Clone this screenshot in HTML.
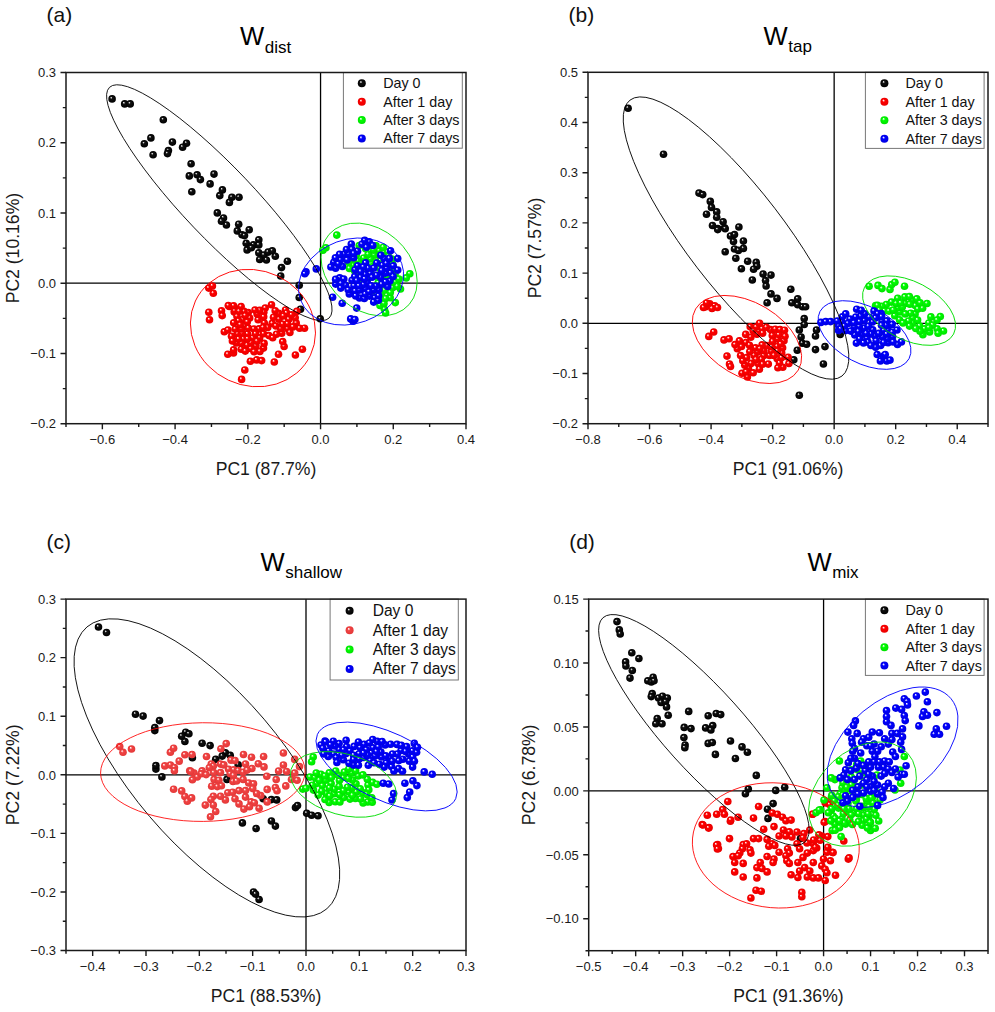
<!DOCTYPE html>
<html><head><meta charset="utf-8"><style>
html,body{margin:0;padding:0;background:#fff;}
svg{display:block;}
text{font-family:"Liberation Sans", sans-serif;fill:#1a1a1a;}
.tl{font-size:13px;}
.al{font-size:17.6px;}
.ti{font-size:25.6px;fill:#000;}
.sb{font-size:17px;}
.pl{font-size:21px;fill:#111;}
.lg{font-size:14px;fill:#111;}
</style></head><body>
<svg width="995" height="1012" viewBox="0 0 995 1012">
<defs>
<radialGradient id="gk" cx="0.5" cy="0.5" r="0.5" fx="0.36" fy="0.31"><stop offset="0" stop-color="#f0f0f0"/><stop offset="0.1" stop-color="#ccc"/><stop offset="0.32" stop-color="#111"/><stop offset="1" stop-color="#000"/></radialGradient>
<radialGradient id="gr" cx="0.5" cy="0.5" r="0.5" fx="0.36" fy="0.31"><stop offset="0" stop-color="#fff"/><stop offset="0.1" stop-color="#ffd8d8"/><stop offset="0.36" stop-color="#f00"/><stop offset="1" stop-color="#e80000"/></radialGradient>
<radialGradient id="gr2" cx="0.5" cy="0.5" r="0.5" fx="0.36" fy="0.31"><stop offset="0" stop-color="#fff"/><stop offset="0.1" stop-color="#ffdede"/><stop offset="0.36" stop-color="#f04444"/><stop offset="1" stop-color="#e43838"/></radialGradient>
<radialGradient id="gg" cx="0.5" cy="0.5" r="0.5" fx="0.36" fy="0.31"><stop offset="0" stop-color="#fff"/><stop offset="0.1" stop-color="#d8ffd8"/><stop offset="0.36" stop-color="#0f0"/><stop offset="1" stop-color="#00e000"/></radialGradient>
<radialGradient id="gb" cx="0.5" cy="0.5" r="0.5" fx="0.36" fy="0.31"><stop offset="0" stop-color="#fff"/><stop offset="0.1" stop-color="#d8d8ff"/><stop offset="0.36" stop-color="#00f"/><stop offset="1" stop-color="#0000e0"/></radialGradient>
</defs>
<rect width="995" height="1012" fill="#fff"/>
<clipPath id="clipa"><rect x="66" y="72.5" width="400" height="351.2"/></clipPath>
<line x1="320.55" y1="72.5" x2="320.55" y2="423.7" stroke="#000" stroke-width="1.3"/>
<line x1="66" y1="283.22" x2="466" y2="283.22" stroke="#000" stroke-width="1.3"/>
<g clip-path="url(#clipa)">
<circle cx="112.1" cy="98.9" r="3.8" fill="url(#gk)"/>
<circle cx="124.7" cy="103.9" r="3.8" fill="url(#gk)"/>
<circle cx="130.2" cy="103.9" r="3.8" fill="url(#gk)"/>
<circle cx="163.3" cy="119.8" r="3.8" fill="url(#gk)"/>
<circle cx="150.9" cy="137.9" r="3.8" fill="url(#gk)"/>
<circle cx="144.3" cy="143.7" r="3.8" fill="url(#gk)"/>
<circle cx="172.4" cy="142.1" r="3.8" fill="url(#gk)"/>
<circle cx="186.5" cy="143.3" r="3.8" fill="url(#gk)"/>
<circle cx="182.6" cy="147.2" r="3.8" fill="url(#gk)"/>
<circle cx="168.4" cy="150.6" r="3.8" fill="url(#gk)"/>
<circle cx="167.5" cy="153.6" r="3.8" fill="url(#gk)"/>
<circle cx="153.1" cy="154.8" r="3.8" fill="url(#gk)"/>
<circle cx="191.1" cy="163.8" r="3.8" fill="url(#gk)"/>
<circle cx="189.3" cy="175.9" r="3.8" fill="url(#gk)"/>
<circle cx="197.1" cy="174.7" r="3.8" fill="url(#gk)"/>
<circle cx="214.0" cy="174.1" r="3.8" fill="url(#gk)"/>
<circle cx="200.4" cy="179.6" r="3.8" fill="url(#gk)"/>
<circle cx="191.8" cy="191.8" r="3.8" fill="url(#gk)"/>
<circle cx="210.1" cy="183.9" r="3.8" fill="url(#gk)"/>
<circle cx="222.4" cy="189.9" r="3.8" fill="url(#gk)"/>
<circle cx="219.8" cy="195.6" r="3.8" fill="url(#gk)"/>
<circle cx="231.9" cy="197.3" r="3.8" fill="url(#gk)"/>
<circle cx="239.0" cy="197.3" r="3.8" fill="url(#gk)"/>
<circle cx="229.4" cy="202.4" r="3.8" fill="url(#gk)"/>
<circle cx="217.3" cy="212.9" r="3.8" fill="url(#gk)"/>
<circle cx="223.5" cy="218.0" r="3.8" fill="url(#gk)"/>
<circle cx="221.5" cy="221.3" r="3.8" fill="url(#gk)"/>
<circle cx="226.4" cy="225.0" r="3.8" fill="url(#gk)"/>
<circle cx="238.7" cy="224.2" r="3.8" fill="url(#gk)"/>
<circle cx="249.2" cy="229.7" r="3.8" fill="url(#gk)"/>
<circle cx="237.3" cy="230.9" r="3.8" fill="url(#gk)"/>
<circle cx="242.0" cy="234.8" r="3.8" fill="url(#gk)"/>
<circle cx="244.5" cy="235.6" r="3.8" fill="url(#gk)"/>
<circle cx="258.8" cy="239.8" r="3.8" fill="url(#gk)"/>
<circle cx="246.2" cy="243.2" r="3.8" fill="url(#gk)"/>
<circle cx="253.4" cy="244.9" r="3.8" fill="url(#gk)"/>
<circle cx="258.8" cy="244.9" r="3.8" fill="url(#gk)"/>
<circle cx="247.1" cy="249.9" r="3.8" fill="url(#gk)"/>
<circle cx="251.3" cy="247.7" r="3.8" fill="url(#gk)"/>
<circle cx="258.8" cy="252.8" r="3.8" fill="url(#gk)"/>
<circle cx="263.9" cy="255.0" r="3.8" fill="url(#gk)"/>
<circle cx="268.1" cy="252.1" r="3.8" fill="url(#gk)"/>
<circle cx="272.3" cy="250.8" r="3.8" fill="url(#gk)"/>
<circle cx="275.3" cy="256.3" r="3.8" fill="url(#gk)"/>
<circle cx="259.7" cy="259.5" r="3.8" fill="url(#gk)"/>
<circle cx="266.4" cy="260.0" r="3.8" fill="url(#gk)"/>
<circle cx="287.4" cy="261.2" r="3.8" fill="url(#gk)"/>
<circle cx="281.5" cy="267.6" r="3.8" fill="url(#gk)"/>
<circle cx="280.7" cy="276.0" r="3.8" fill="url(#gk)"/>
<circle cx="299.2" cy="285.2" r="3.8" fill="url(#gk)"/>
<circle cx="299.2" cy="297.5" r="3.8" fill="url(#gk)"/>
<circle cx="300.5" cy="309.2" r="3.8" fill="url(#gk)"/>
<circle cx="320.2" cy="318.8" r="3.8" fill="url(#gk)"/>
<circle cx="208.8" cy="288.1" r="3.8" fill="url(#gr)"/>
<circle cx="212.4" cy="286.0" r="3.8" fill="url(#gr)"/>
<circle cx="213.3" cy="293.3" r="3.8" fill="url(#gr)"/>
<circle cx="208.8" cy="312.3" r="3.8" fill="url(#gr)"/>
<circle cx="209.5" cy="319.8" r="3.8" fill="url(#gr)"/>
<circle cx="221.5" cy="310.7" r="3.8" fill="url(#gr)"/>
<circle cx="222.2" cy="315.6" r="3.8" fill="url(#gr)"/>
<circle cx="229.2" cy="306.4" r="3.8" fill="url(#gr)"/>
<circle cx="233.5" cy="307.1" r="3.8" fill="url(#gr)"/>
<circle cx="239.8" cy="308.5" r="3.8" fill="url(#gr)"/>
<circle cx="234.2" cy="312.1" r="3.8" fill="url(#gr)"/>
<circle cx="271.5" cy="304.7" r="3.8" fill="url(#gr)"/>
<circle cx="224.3" cy="331.8" r="3.8" fill="url(#gr)"/>
<circle cx="227.8" cy="354.3" r="3.8" fill="url(#gr)"/>
<circle cx="233.5" cy="352.9" r="3.8" fill="url(#gr)"/>
<circle cx="244.8" cy="370.0" r="3.8" fill="url(#gr)"/>
<circle cx="241.6" cy="379.4" r="3.8" fill="url(#gr)"/>
<circle cx="250.4" cy="361.3" r="3.8" fill="url(#gr)"/>
<circle cx="256.7" cy="359.9" r="3.8" fill="url(#gr)"/>
<circle cx="261.6" cy="360.6" r="3.8" fill="url(#gr)"/>
<circle cx="274.3" cy="362.0" r="3.8" fill="url(#gr)"/>
<circle cx="278.5" cy="354.3" r="3.8" fill="url(#gr)"/>
<circle cx="295.4" cy="355.0" r="3.8" fill="url(#gr)"/>
<circle cx="302.4" cy="349.3" r="3.8" fill="url(#gr)"/>
<circle cx="304.5" cy="328.2" r="3.8" fill="url(#gr)"/>
<circle cx="299.6" cy="328.2" r="3.8" fill="url(#gr)"/>
<circle cx="284.1" cy="346.5" r="3.8" fill="url(#gr)"/>
<circle cx="282.7" cy="341.6" r="3.8" fill="url(#gr)"/>
<circle cx="296.8" cy="311.4" r="3.8" fill="url(#gr)"/>
<circle cx="285.5" cy="310.0" r="3.8" fill="url(#gr)"/>
<circle cx="248.2" cy="312.5" r="3.8" fill="url(#gr)"/>
<circle cx="264.3" cy="323.0" r="3.8" fill="url(#gr)"/>
<circle cx="228.0" cy="330.0" r="3.8" fill="url(#gr)"/>
<circle cx="255.9" cy="345.7" r="3.8" fill="url(#gr)"/>
<circle cx="288.8" cy="319.3" r="3.8" fill="url(#gr)"/>
<circle cx="234.6" cy="310.8" r="3.8" fill="url(#gr)"/>
<circle cx="247.1" cy="345.2" r="3.8" fill="url(#gr)"/>
<circle cx="237.4" cy="333.7" r="3.8" fill="url(#gr)"/>
<circle cx="272.2" cy="323.4" r="3.8" fill="url(#gr)"/>
<circle cx="265.2" cy="308.1" r="3.8" fill="url(#gr)"/>
<circle cx="247.5" cy="333.9" r="3.8" fill="url(#gr)"/>
<circle cx="258.1" cy="319.8" r="3.8" fill="url(#gr)"/>
<circle cx="242.2" cy="333.3" r="3.8" fill="url(#gr)"/>
<circle cx="263.5" cy="348.1" r="3.8" fill="url(#gr)"/>
<circle cx="279.0" cy="319.2" r="3.8" fill="url(#gr)"/>
<circle cx="235.2" cy="329.1" r="3.8" fill="url(#gr)"/>
<circle cx="281.7" cy="333.2" r="3.8" fill="url(#gr)"/>
<circle cx="276.4" cy="334.3" r="3.8" fill="url(#gr)"/>
<circle cx="267.7" cy="327.5" r="3.8" fill="url(#gr)"/>
<circle cx="259.6" cy="337.7" r="3.8" fill="url(#gr)"/>
<circle cx="252.9" cy="338.0" r="3.8" fill="url(#gr)"/>
<circle cx="244.8" cy="325.5" r="3.8" fill="url(#gr)"/>
<circle cx="250.9" cy="348.6" r="3.8" fill="url(#gr)"/>
<circle cx="237.0" cy="316.4" r="3.8" fill="url(#gr)"/>
<circle cx="241.3" cy="328.9" r="3.8" fill="url(#gr)"/>
<circle cx="231.5" cy="336.3" r="3.8" fill="url(#gr)"/>
<circle cx="259.0" cy="328.9" r="3.8" fill="url(#gr)"/>
<circle cx="249.7" cy="318.1" r="3.8" fill="url(#gr)"/>
<circle cx="286.6" cy="313.0" r="3.8" fill="url(#gr)"/>
<circle cx="263.8" cy="312.2" r="3.8" fill="url(#gr)"/>
<circle cx="236.3" cy="343.0" r="3.8" fill="url(#gr)"/>
<circle cx="264.1" cy="343.4" r="3.8" fill="url(#gr)"/>
<circle cx="243.3" cy="339.1" r="3.8" fill="url(#gr)"/>
<circle cx="296.2" cy="323.0" r="3.8" fill="url(#gr)"/>
<circle cx="287.5" cy="328.6" r="3.8" fill="url(#gr)"/>
<circle cx="280.6" cy="328.6" r="3.8" fill="url(#gr)"/>
<circle cx="254.1" cy="351.7" r="3.8" fill="url(#gr)"/>
<circle cx="278.7" cy="313.4" r="3.8" fill="url(#gr)"/>
<circle cx="233.6" cy="305.7" r="3.8" fill="url(#gr)"/>
<circle cx="242.8" cy="319.5" r="3.8" fill="url(#gr)"/>
<circle cx="233.6" cy="349.8" r="3.8" fill="url(#gr)"/>
<circle cx="257.1" cy="314.0" r="3.8" fill="url(#gr)"/>
<circle cx="293.0" cy="326.9" r="3.8" fill="url(#gr)"/>
<circle cx="259.9" cy="351.4" r="3.8" fill="url(#gr)"/>
<circle cx="295.2" cy="317.8" r="3.8" fill="url(#gr)"/>
<circle cx="253.9" cy="329.0" r="3.8" fill="url(#gr)"/>
<circle cx="238.5" cy="320.7" r="3.8" fill="url(#gr)"/>
<circle cx="275.9" cy="326.0" r="3.8" fill="url(#gr)"/>
<circle cx="244.0" cy="311.4" r="3.8" fill="url(#gr)"/>
<circle cx="263.7" cy="316.8" r="3.8" fill="url(#gr)"/>
<circle cx="241.1" cy="306.6" r="3.8" fill="url(#gr)"/>
<circle cx="233.7" cy="322.8" r="3.8" fill="url(#gr)"/>
<circle cx="291.5" cy="314.8" r="3.8" fill="url(#gr)"/>
<circle cx="241.2" cy="349.2" r="3.8" fill="url(#gr)"/>
<circle cx="245.3" cy="351.1" r="3.8" fill="url(#gr)"/>
<circle cx="263.5" cy="333.7" r="3.8" fill="url(#gr)"/>
<circle cx="268.9" cy="335.6" r="3.8" fill="url(#gr)"/>
<circle cx="283.3" cy="316.0" r="3.8" fill="url(#gr)"/>
<circle cx="240.2" cy="324.7" r="3.8" fill="url(#gr)"/>
<circle cx="255.5" cy="333.7" r="3.8" fill="url(#gr)"/>
<circle cx="259.6" cy="310.3" r="3.8" fill="url(#gr)"/>
<circle cx="289.9" cy="332.4" r="3.8" fill="url(#gr)"/>
<circle cx="251.0" cy="342.7" r="3.8" fill="url(#gr)"/>
<circle cx="245.2" cy="315.6" r="3.8" fill="url(#gr)"/>
<circle cx="282.7" cy="324.2" r="3.8" fill="url(#gr)"/>
<circle cx="273.5" cy="317.3" r="3.8" fill="url(#gr)"/>
<circle cx="241.4" cy="343.3" r="3.8" fill="url(#gr)"/>
<circle cx="238.6" cy="339.1" r="3.8" fill="url(#gr)"/>
<circle cx="255.0" cy="310.1" r="3.8" fill="url(#gr)"/>
<circle cx="257.0" cy="341.2" r="3.8" fill="url(#gr)"/>
<circle cx="228.3" cy="305.6" r="3.8" fill="url(#gr)"/>
<circle cx="248.3" cy="328.1" r="3.8" fill="url(#gr)"/>
<circle cx="275.2" cy="310.7" r="3.8" fill="url(#gr)"/>
<circle cx="239.1" cy="311.3" r="3.8" fill="url(#gr)"/>
<circle cx="263.1" cy="327.5" r="3.8" fill="url(#gr)"/>
<circle cx="232.4" cy="341.0" r="3.8" fill="url(#gr)"/>
<circle cx="272.7" cy="337.7" r="3.8" fill="url(#gr)"/>
<circle cx="247.2" cy="321.9" r="3.8" fill="url(#gr)"/>
<circle cx="247.7" cy="338.7" r="3.8" fill="url(#gr)"/>
<circle cx="287.5" cy="323.7" r="3.8" fill="url(#gr)"/>
<circle cx="336.8" cy="235.1" r="3.8" fill="url(#gg)"/>
<circle cx="325.9" cy="247.7" r="3.8" fill="url(#gg)"/>
<circle cx="322.9" cy="250.2" r="3.8" fill="url(#gg)"/>
<circle cx="409.8" cy="273.7" r="3.8" fill="url(#gg)"/>
<circle cx="406.2" cy="277.9" r="3.8" fill="url(#gg)"/>
<circle cx="397.7" cy="279.7" r="3.8" fill="url(#gg)"/>
<circle cx="395.3" cy="302.6" r="3.8" fill="url(#gg)"/>
<circle cx="384.4" cy="309.3" r="3.8" fill="url(#gg)"/>
<circle cx="385.6" cy="312.9" r="3.8" fill="url(#gg)"/>
<circle cx="382.0" cy="297.2" r="3.8" fill="url(#gg)"/>
<circle cx="400.5" cy="289.0" r="3.8" fill="url(#gg)"/>
<circle cx="374.2" cy="254.9" r="3.8" fill="url(#gg)"/>
<circle cx="370.5" cy="259.0" r="3.8" fill="url(#gg)"/>
<circle cx="379.0" cy="250.7" r="3.8" fill="url(#gg)"/>
<circle cx="374.7" cy="287.5" r="3.8" fill="url(#gg)"/>
<circle cx="380.0" cy="305.5" r="3.8" fill="url(#gg)"/>
<circle cx="379.5" cy="255.5" r="3.8" fill="url(#gg)"/>
<circle cx="376.9" cy="294.1" r="3.8" fill="url(#gg)"/>
<circle cx="388.3" cy="262.0" r="3.8" fill="url(#gg)"/>
<circle cx="380.2" cy="268.7" r="3.8" fill="url(#gg)"/>
<circle cx="365.7" cy="248.7" r="3.8" fill="url(#gg)"/>
<circle cx="372.0" cy="266.7" r="3.8" fill="url(#gg)"/>
<circle cx="386.8" cy="276.8" r="3.8" fill="url(#gg)"/>
<circle cx="395.5" cy="281.8" r="3.8" fill="url(#gg)"/>
<circle cx="363.6" cy="258.1" r="3.8" fill="url(#gg)"/>
<circle cx="377.6" cy="299.8" r="3.8" fill="url(#gg)"/>
<circle cx="364.1" cy="275.7" r="3.8" fill="url(#gg)"/>
<circle cx="360.2" cy="283.4" r="3.8" fill="url(#gg)"/>
<circle cx="357.8" cy="260.9" r="3.8" fill="url(#gg)"/>
<circle cx="384.5" cy="290.3" r="3.8" fill="url(#gg)"/>
<circle cx="357.3" cy="275.1" r="3.8" fill="url(#gg)"/>
<circle cx="390.2" cy="297.8" r="3.8" fill="url(#gg)"/>
<circle cx="389.5" cy="282.9" r="3.8" fill="url(#gg)"/>
<circle cx="384.2" cy="266.3" r="3.8" fill="url(#gg)"/>
<circle cx="352.9" cy="265.3" r="3.8" fill="url(#gg)"/>
<circle cx="353.3" cy="259.5" r="3.8" fill="url(#gg)"/>
<circle cx="384.1" cy="255.4" r="3.8" fill="url(#gg)"/>
<circle cx="383.2" cy="247.2" r="3.8" fill="url(#gg)"/>
<circle cx="392.6" cy="287.7" r="3.8" fill="url(#gg)"/>
<circle cx="375.4" cy="262.0" r="3.8" fill="url(#gg)"/>
<circle cx="378.2" cy="282.8" r="3.8" fill="url(#gg)"/>
<circle cx="384.0" cy="303.5" r="3.8" fill="url(#gg)"/>
<circle cx="360.2" cy="264.5" r="3.8" fill="url(#gg)"/>
<circle cx="390.6" cy="271.5" r="3.8" fill="url(#gg)"/>
<circle cx="364.0" cy="244.6" r="3.8" fill="url(#gg)"/>
<circle cx="382.1" cy="280.6" r="3.8" fill="url(#gg)"/>
<circle cx="348.7" cy="262.4" r="3.8" fill="url(#gg)"/>
<circle cx="359.2" cy="245.6" r="3.8" fill="url(#gg)"/>
<circle cx="356.3" cy="254.9" r="3.8" fill="url(#gg)"/>
<circle cx="395.0" cy="274.3" r="3.8" fill="url(#gg)"/>
<circle cx="379.6" cy="287.8" r="3.8" fill="url(#gg)"/>
<circle cx="387.6" cy="252.1" r="3.8" fill="url(#gg)"/>
<circle cx="369.1" cy="244.5" r="3.8" fill="url(#gg)"/>
<circle cx="385.1" cy="284.5" r="3.8" fill="url(#gg)"/>
<circle cx="368.0" cy="277.7" r="3.8" fill="url(#gg)"/>
<circle cx="381.8" cy="296.3" r="3.8" fill="url(#gg)"/>
<circle cx="370.3" cy="271.7" r="3.8" fill="url(#gg)"/>
<circle cx="398.9" cy="279.1" r="3.8" fill="url(#gg)"/>
<circle cx="373.4" cy="250.1" r="3.8" fill="url(#gg)"/>
<circle cx="361.1" cy="268.9" r="3.8" fill="url(#gg)"/>
<circle cx="375.0" cy="276.2" r="3.8" fill="url(#gg)"/>
<circle cx="382.3" cy="276.2" r="3.8" fill="url(#gg)"/>
<circle cx="366.1" cy="265.5" r="3.8" fill="url(#gg)"/>
<circle cx="367.0" cy="284.0" r="3.8" fill="url(#gg)"/>
<circle cx="364.8" cy="271.2" r="3.8" fill="url(#gg)"/>
<circle cx="394.3" cy="269.2" r="3.8" fill="url(#gg)"/>
<circle cx="392.7" cy="264.3" r="3.8" fill="url(#gg)"/>
<circle cx="365.5" cy="289.0" r="3.8" fill="url(#gg)"/>
<circle cx="354.7" cy="271.1" r="3.8" fill="url(#gg)"/>
<circle cx="390.3" cy="292.5" r="3.8" fill="url(#gg)"/>
<circle cx="368.1" cy="254.4" r="3.8" fill="url(#gg)"/>
<circle cx="376.1" cy="245.9" r="3.8" fill="url(#gg)"/>
<circle cx="380.5" cy="260.6" r="3.8" fill="url(#gg)"/>
<circle cx="384.6" cy="271.0" r="3.8" fill="url(#gg)"/>
<circle cx="391.7" cy="277.8" r="3.8" fill="url(#gg)"/>
<circle cx="391.9" cy="259.0" r="3.8" fill="url(#gg)"/>
<circle cx="349.4" cy="268.5" r="3.8" fill="url(#gg)"/>
<circle cx="360.1" cy="279.1" r="3.8" fill="url(#gg)"/>
<circle cx="388.3" cy="256.4" r="3.8" fill="url(#gg)"/>
<circle cx="385.6" cy="298.5" r="3.8" fill="url(#gg)"/>
<circle cx="388.9" cy="266.6" r="3.8" fill="url(#gg)"/>
<circle cx="397.3" cy="286.3" r="3.8" fill="url(#gg)"/>
<circle cx="356.9" cy="267.3" r="3.8" fill="url(#gg)"/>
<circle cx="306.0" cy="271.9" r="3.8" fill="url(#gb)"/>
<circle cx="316.3" cy="268.9" r="3.8" fill="url(#gb)"/>
<circle cx="332.6" cy="297.2" r="3.8" fill="url(#gb)"/>
<circle cx="342.2" cy="303.2" r="3.8" fill="url(#gb)"/>
<circle cx="356.7" cy="308.1" r="3.8" fill="url(#gb)"/>
<circle cx="353.1" cy="321.3" r="3.8" fill="url(#gb)"/>
<circle cx="350.7" cy="318.9" r="3.8" fill="url(#gb)"/>
<circle cx="354.9" cy="319.5" r="3.8" fill="url(#gb)"/>
<circle cx="397.7" cy="270.1" r="3.8" fill="url(#gb)"/>
<circle cx="390.5" cy="250.8" r="3.8" fill="url(#gb)"/>
<circle cx="397.7" cy="258.6" r="3.8" fill="url(#gb)"/>
<circle cx="351.3" cy="244.1" r="3.8" fill="url(#gb)"/>
<circle cx="304.8" cy="273.7" r="3.8" fill="url(#gb)"/>
<circle cx="344.0" cy="254.2" r="3.8" fill="url(#gb)"/>
<circle cx="357.5" cy="251.2" r="3.8" fill="url(#gb)"/>
<circle cx="342.4" cy="266.4" r="3.8" fill="url(#gb)"/>
<circle cx="348.8" cy="253.8" r="3.8" fill="url(#gb)"/>
<circle cx="335.6" cy="268.2" r="3.8" fill="url(#gb)"/>
<circle cx="333.8" cy="262.2" r="3.8" fill="url(#gb)"/>
<circle cx="340.4" cy="259.8" r="3.8" fill="url(#gb)"/>
<circle cx="353.6" cy="257.8" r="3.8" fill="url(#gb)"/>
<circle cx="347.1" cy="259.9" r="3.8" fill="url(#gb)"/>
<circle cx="339.6" cy="254.4" r="3.8" fill="url(#gb)"/>
<circle cx="346.5" cy="249.5" r="3.8" fill="url(#gb)"/>
<circle cx="351.9" cy="249.3" r="3.8" fill="url(#gb)"/>
<circle cx="335.4" cy="257.9" r="3.8" fill="url(#gb)"/>
<circle cx="338.3" cy="263.8" r="3.8" fill="url(#gb)"/>
<circle cx="330.9" cy="267.0" r="3.8" fill="url(#gb)"/>
<circle cx="353.7" cy="253.4" r="3.8" fill="url(#gb)"/>
<circle cx="376.8" cy="263.0" r="3.8" fill="url(#gb)"/>
<circle cx="349.3" cy="294.0" r="3.8" fill="url(#gb)"/>
<circle cx="354.0" cy="285.9" r="3.8" fill="url(#gb)"/>
<circle cx="355.1" cy="269.7" r="3.8" fill="url(#gb)"/>
<circle cx="384.1" cy="258.6" r="3.8" fill="url(#gb)"/>
<circle cx="373.9" cy="268.1" r="3.8" fill="url(#gb)"/>
<circle cx="380.6" cy="277.5" r="3.8" fill="url(#gb)"/>
<circle cx="367.3" cy="282.5" r="3.8" fill="url(#gb)"/>
<circle cx="339.7" cy="277.7" r="3.8" fill="url(#gb)"/>
<circle cx="378.9" cy="289.7" r="3.8" fill="url(#gb)"/>
<circle cx="381.7" cy="284.3" r="3.8" fill="url(#gb)"/>
<circle cx="374.7" cy="297.7" r="3.8" fill="url(#gb)"/>
<circle cx="370.1" cy="273.4" r="3.8" fill="url(#gb)"/>
<circle cx="390.5" cy="272.8" r="3.8" fill="url(#gb)"/>
<circle cx="359.5" cy="298.0" r="3.8" fill="url(#gb)"/>
<circle cx="365.3" cy="288.6" r="3.8" fill="url(#gb)"/>
<circle cx="389.8" cy="281.0" r="3.8" fill="url(#gb)"/>
<circle cx="393.2" cy="265.8" r="3.8" fill="url(#gb)"/>
<circle cx="355.1" cy="291.0" r="3.8" fill="url(#gb)"/>
<circle cx="385.5" cy="273.1" r="3.8" fill="url(#gb)"/>
<circle cx="359.4" cy="290.1" r="3.8" fill="url(#gb)"/>
<circle cx="345.5" cy="285.3" r="3.8" fill="url(#gb)"/>
<circle cx="373.7" cy="302.1" r="3.8" fill="url(#gb)"/>
<circle cx="365.6" cy="262.9" r="3.8" fill="url(#gb)"/>
<circle cx="378.3" cy="300.3" r="3.8" fill="url(#gb)"/>
<circle cx="382.4" cy="265.3" r="3.8" fill="url(#gb)"/>
<circle cx="364.3" cy="298.5" r="3.8" fill="url(#gb)"/>
<circle cx="335.7" cy="284.1" r="3.8" fill="url(#gb)"/>
<circle cx="365.1" cy="274.4" r="3.8" fill="url(#gb)"/>
<circle cx="372.0" cy="277.3" r="3.8" fill="url(#gb)"/>
<circle cx="368.2" cy="268.2" r="3.8" fill="url(#gb)"/>
<circle cx="380.8" cy="255.3" r="3.8" fill="url(#gb)"/>
<circle cx="343.8" cy="279.1" r="3.8" fill="url(#gb)"/>
<circle cx="363.2" cy="266.9" r="3.8" fill="url(#gb)"/>
<circle cx="360.6" cy="277.4" r="3.8" fill="url(#gb)"/>
<circle cx="352.1" cy="280.2" r="3.8" fill="url(#gb)"/>
<circle cx="354.7" cy="276.6" r="3.8" fill="url(#gb)"/>
<circle cx="369.5" cy="296.1" r="3.8" fill="url(#gb)"/>
<circle cx="360.7" cy="271.5" r="3.8" fill="url(#gb)"/>
<circle cx="365.2" cy="294.1" r="3.8" fill="url(#gb)"/>
<circle cx="373.4" cy="290.3" r="3.8" fill="url(#gb)"/>
<circle cx="376.6" cy="275.3" r="3.8" fill="url(#gb)"/>
<circle cx="363.5" cy="284.6" r="3.8" fill="url(#gb)"/>
<circle cx="387.7" cy="286.4" r="3.8" fill="url(#gb)"/>
<circle cx="386.6" cy="268.2" r="3.8" fill="url(#gb)"/>
<circle cx="341.0" cy="283.4" r="3.8" fill="url(#gb)"/>
<circle cx="335.6" cy="279.4" r="3.8" fill="url(#gb)"/>
<circle cx="340.8" cy="288.1" r="3.8" fill="url(#gb)"/>
<circle cx="364.8" cy="278.9" r="3.8" fill="url(#gb)"/>
<circle cx="375.9" cy="286.1" r="3.8" fill="url(#gb)"/>
<circle cx="386.3" cy="263.4" r="3.8" fill="url(#gb)"/>
<circle cx="381.8" cy="270.5" r="3.8" fill="url(#gb)"/>
<circle cx="385.6" cy="281.9" r="3.8" fill="url(#gb)"/>
<circle cx="389.4" cy="258.4" r="3.8" fill="url(#gb)"/>
<circle cx="348.2" cy="289.8" r="3.8" fill="url(#gb)"/>
<circle cx="369.1" cy="291.7" r="3.8" fill="url(#gb)"/>
<circle cx="355.7" cy="295.9" r="3.8" fill="url(#gb)"/>
<circle cx="371.1" cy="285.7" r="3.8" fill="url(#gb)"/>
<circle cx="378.6" cy="295.7" r="3.8" fill="url(#gb)"/>
<circle cx="357.6" cy="265.7" r="3.8" fill="url(#gb)"/>
<circle cx="356.8" cy="280.5" r="3.8" fill="url(#gb)"/>
<circle cx="358.9" cy="285.8" r="3.8" fill="url(#gb)"/>
<circle cx="393.1" cy="276.4" r="3.8" fill="url(#gb)"/>
<circle cx="369.2" cy="241.8" r="3.8" fill="url(#gb)"/>
<circle cx="362.0" cy="244.2" r="3.8" fill="url(#gb)"/>
<circle cx="366.4" cy="247.3" r="3.8" fill="url(#gb)"/>
<circle cx="372.8" cy="245.5" r="3.8" fill="url(#gb)"/>
<circle cx="364.7" cy="240.3" r="3.8" fill="url(#gb)"/>
</g>
<g clip-path="url(#clipa)" fill="none" stroke-width="0.85">
<ellipse cx="219.31" cy="202.69" rx="159.25" ry="35.48" transform="rotate(-133.58 219.31 202.69)" stroke="#000"/>
<ellipse cx="252.95" cy="328.06" rx="63.59" ry="57.61" transform="rotate(-154.82 252.95 328.06)" stroke="#f00"/>
<ellipse cx="369.08" cy="269.47" rx="53.22" ry="40.48" transform="rotate(-138.82 369.08 269.47)" stroke="#0d0"/>
<ellipse cx="351.06" cy="281.53" rx="53.78" ry="42.05" transform="rotate(160.19 351.06 281.53)" stroke="#00f"/>
</g>
<path d="M102.36 423.7v5.5M175.09 423.7v5.5M247.82 423.7v5.5M320.55 423.7v5.5M393.27 423.7v5.5M466.00 423.7v5.5M66.00 423.7v3.2M138.73 423.7v3.2M211.45 423.7v3.2M284.18 423.7v3.2M356.91 423.7v3.2M429.64 423.7v3.2M66 72.50h-5.5M66 142.74h-5.5M66 212.98h-5.5M66 283.22h-5.5M66 353.46h-5.5M66 423.70h-5.5M66 107.62h-3.2M66 177.86h-3.2M66 248.10h-3.2M66 318.34h-3.2M66 388.58h-3.2" stroke="#1a1a1a" stroke-width="1.4" fill="none"/>
<text x="102.36" y="444.0" text-anchor="middle" class="tl">−0.6</text>
<text x="175.09" y="444.0" text-anchor="middle" class="tl">−0.4</text>
<text x="247.82" y="444.0" text-anchor="middle" class="tl">−0.2</text>
<text x="320.55" y="444.0" text-anchor="middle" class="tl">0.0</text>
<text x="393.27" y="444.0" text-anchor="middle" class="tl">0.2</text>
<text x="466.00" y="444.0" text-anchor="middle" class="tl">0.4</text>
<text x="56.00" y="77.2" text-anchor="end" class="tl">0.3</text>
<text x="56.00" y="147.4" text-anchor="end" class="tl">0.2</text>
<text x="56.00" y="217.7" text-anchor="end" class="tl">0.1</text>
<text x="56.00" y="287.9" text-anchor="end" class="tl">0.0</text>
<text x="56.00" y="358.2" text-anchor="end" class="tl">−0.1</text>
<text x="56.00" y="428.4" text-anchor="end" class="tl">−0.2</text>
<text x="266.0" y="474.9" text-anchor="middle" class="al">PC1 (87.7%)</text>
<text transform="translate(18.5 248.1) rotate(-90)" x="0" y="0" text-anchor="middle" class="al">PC2 (10.16%)</text>
<text x="239.9" y="45.0" class="ti">W<tspan class="sb" dx="0.6" dy="7.5">dist</tspan></text>
<text x="46.5" y="22.3" class="pl">(a)</text>
<rect x="343.4" y="72.5" width="118.90000000000003" height="75.69999999999999" fill="#fff" stroke="#777" stroke-width="1"/>
<circle cx="361.8" cy="83.3" r="4.0" fill="url(#gk)"/>
<text x="383.2" y="88.2" class="lg" style="font-size:14.3px">Day 0</text>
<circle cx="361.8" cy="101.7" r="4.0" fill="url(#gr)"/>
<text x="383.2" y="106.6" class="lg" style="font-size:14.3px">After 1 day</text>
<circle cx="361.8" cy="120.1" r="4.0" fill="url(#gg)"/>
<text x="383.2" y="125.0" class="lg" style="font-size:14.3px">After 3 days</text>
<circle cx="361.8" cy="138.5" r="4.0" fill="url(#gb)"/>
<text x="383.2" y="143.4" class="lg" style="font-size:14.3px">After 7 days</text>
<rect x="66" y="72.5" width="400" height="351.2" fill="none" stroke="#1a1a1a" stroke-width="1.5"/>
<clipPath id="clipb"><rect x="588" y="72.3" width="400" height="351.4"/></clipPath>
<line x1="834.15" y1="72.3" x2="834.15" y2="423.7" stroke="#000" stroke-width="1.3"/>
<line x1="588" y1="323.30" x2="988" y2="323.30" stroke="#000" stroke-width="1.3"/>
<g clip-path="url(#clipb)">
<circle cx="628.1" cy="108.2" r="3.8" fill="url(#gk)"/>
<circle cx="663.5" cy="154.3" r="3.8" fill="url(#gk)"/>
<circle cx="699.0" cy="193.1" r="3.8" fill="url(#gk)"/>
<circle cx="702.7" cy="194.6" r="3.8" fill="url(#gk)"/>
<circle cx="710.3" cy="201.4" r="3.8" fill="url(#gk)"/>
<circle cx="711.5" cy="207.4" r="3.8" fill="url(#gk)"/>
<circle cx="716.7" cy="211.9" r="3.8" fill="url(#gk)"/>
<circle cx="706.5" cy="214.2" r="3.8" fill="url(#gk)"/>
<circle cx="716.7" cy="217.2" r="3.8" fill="url(#gk)"/>
<circle cx="723.1" cy="221.7" r="3.8" fill="url(#gk)"/>
<circle cx="712.5" cy="225.5" r="3.8" fill="url(#gk)"/>
<circle cx="738.9" cy="227.0" r="3.8" fill="url(#gk)"/>
<circle cx="724.6" cy="227.7" r="3.8" fill="url(#gk)"/>
<circle cx="717.8" cy="228.5" r="3.8" fill="url(#gk)"/>
<circle cx="717.7" cy="229.6" r="3.8" fill="url(#gk)"/>
<circle cx="725.2" cy="228.7" r="3.8" fill="url(#gk)"/>
<circle cx="730.5" cy="236.0" r="3.8" fill="url(#gk)"/>
<circle cx="734.5" cy="234.6" r="3.8" fill="url(#gk)"/>
<circle cx="733.5" cy="241.5" r="3.8" fill="url(#gk)"/>
<circle cx="743.4" cy="241.1" r="3.8" fill="url(#gk)"/>
<circle cx="725.2" cy="251.8" r="3.8" fill="url(#gk)"/>
<circle cx="734.5" cy="249.0" r="3.8" fill="url(#gk)"/>
<circle cx="738.4" cy="250.4" r="3.8" fill="url(#gk)"/>
<circle cx="743.4" cy="248.4" r="3.8" fill="url(#gk)"/>
<circle cx="735.8" cy="258.3" r="3.8" fill="url(#gk)"/>
<circle cx="747.7" cy="261.3" r="3.8" fill="url(#gk)"/>
<circle cx="756.2" cy="262.3" r="3.8" fill="url(#gk)"/>
<circle cx="756.8" cy="266.2" r="3.8" fill="url(#gk)"/>
<circle cx="741.4" cy="268.8" r="3.8" fill="url(#gk)"/>
<circle cx="753.6" cy="269.2" r="3.8" fill="url(#gk)"/>
<circle cx="763.1" cy="274.1" r="3.8" fill="url(#gk)"/>
<circle cx="771.0" cy="275.1" r="3.8" fill="url(#gk)"/>
<circle cx="765.5" cy="280.6" r="3.8" fill="url(#gk)"/>
<circle cx="752.3" cy="280.0" r="3.8" fill="url(#gk)"/>
<circle cx="766.1" cy="286.0" r="3.8" fill="url(#gk)"/>
<circle cx="790.8" cy="289.3" r="3.8" fill="url(#gk)"/>
<circle cx="771.0" cy="293.9" r="3.8" fill="url(#gk)"/>
<circle cx="777.0" cy="298.4" r="3.8" fill="url(#gk)"/>
<circle cx="767.1" cy="302.8" r="3.8" fill="url(#gk)"/>
<circle cx="791.8" cy="302.8" r="3.8" fill="url(#gk)"/>
<circle cx="797.7" cy="298.8" r="3.8" fill="url(#gk)"/>
<circle cx="797.7" cy="304.7" r="3.8" fill="url(#gk)"/>
<circle cx="802.6" cy="306.7" r="3.8" fill="url(#gk)"/>
<circle cx="805.6" cy="306.7" r="3.8" fill="url(#gk)"/>
<circle cx="804.2" cy="318.6" r="3.8" fill="url(#gk)"/>
<circle cx="804.2" cy="324.5" r="3.8" fill="url(#gk)"/>
<circle cx="799.3" cy="330.0" r="3.8" fill="url(#gk)"/>
<circle cx="816.5" cy="330.0" r="3.8" fill="url(#gk)"/>
<circle cx="815.5" cy="336.0" r="3.8" fill="url(#gk)"/>
<circle cx="801.1" cy="337.0" r="3.8" fill="url(#gk)"/>
<circle cx="802.3" cy="343.3" r="3.8" fill="url(#gk)"/>
<circle cx="806.6" cy="344.3" r="3.8" fill="url(#gk)"/>
<circle cx="797.3" cy="350.2" r="3.8" fill="url(#gk)"/>
<circle cx="815.5" cy="349.6" r="3.8" fill="url(#gk)"/>
<circle cx="825.0" cy="346.6" r="3.8" fill="url(#gk)"/>
<circle cx="793.8" cy="359.7" r="3.8" fill="url(#gk)"/>
<circle cx="823.4" cy="364.0" r="3.8" fill="url(#gk)"/>
<circle cx="799.3" cy="395.3" r="3.8" fill="url(#gk)"/>
<circle cx="840.2" cy="334.4" r="3.8" fill="url(#gk)"/>
<circle cx="705.8" cy="306.7" r="3.8" fill="url(#gr)"/>
<circle cx="709.8" cy="303.8" r="3.8" fill="url(#gr)"/>
<circle cx="714.7" cy="305.7" r="3.8" fill="url(#gr)"/>
<circle cx="703.5" cy="307.5" r="3.8" fill="url(#gr)"/>
<circle cx="706.5" cy="303.0" r="3.8" fill="url(#gr)"/>
<circle cx="712.0" cy="308.5" r="3.8" fill="url(#gr)"/>
<circle cx="717.5" cy="307.5" r="3.8" fill="url(#gr)"/>
<circle cx="708.8" cy="336.4" r="3.8" fill="url(#gr)"/>
<circle cx="713.7" cy="332.0" r="3.8" fill="url(#gr)"/>
<circle cx="724.0" cy="339.9" r="3.8" fill="url(#gr)"/>
<circle cx="729.1" cy="338.7" r="3.8" fill="url(#gr)"/>
<circle cx="727.0" cy="356.1" r="3.8" fill="url(#gr)"/>
<circle cx="729.5" cy="364.0" r="3.8" fill="url(#gr)"/>
<circle cx="730.5" cy="366.5" r="3.8" fill="url(#gr)"/>
<circle cx="772.3" cy="335.4" r="3.8" fill="url(#gr)"/>
<circle cx="781.7" cy="352.9" r="3.8" fill="url(#gr)"/>
<circle cx="763.9" cy="355.6" r="3.8" fill="url(#gr)"/>
<circle cx="757.4" cy="352.3" r="3.8" fill="url(#gr)"/>
<circle cx="758.0" cy="363.5" r="3.8" fill="url(#gr)"/>
<circle cx="782.8" cy="367.2" r="3.8" fill="url(#gr)"/>
<circle cx="770.4" cy="329.5" r="3.8" fill="url(#gr)"/>
<circle cx="772.5" cy="341.4" r="3.8" fill="url(#gr)"/>
<circle cx="769.5" cy="355.5" r="3.8" fill="url(#gr)"/>
<circle cx="745.9" cy="342.5" r="3.8" fill="url(#gr)"/>
<circle cx="777.1" cy="346.4" r="3.8" fill="url(#gr)"/>
<circle cx="748.5" cy="368.0" r="3.8" fill="url(#gr)"/>
<circle cx="749.5" cy="345.2" r="3.8" fill="url(#gr)"/>
<circle cx="788.9" cy="363.5" r="3.8" fill="url(#gr)"/>
<circle cx="751.1" cy="363.4" r="3.8" fill="url(#gr)"/>
<circle cx="777.2" cy="358.7" r="3.8" fill="url(#gr)"/>
<circle cx="744.8" cy="365.2" r="3.8" fill="url(#gr)"/>
<circle cx="777.8" cy="339.1" r="3.8" fill="url(#gr)"/>
<circle cx="753.2" cy="372.8" r="3.8" fill="url(#gr)"/>
<circle cx="763.8" cy="350.6" r="3.8" fill="url(#gr)"/>
<circle cx="762.1" cy="328.7" r="3.8" fill="url(#gr)"/>
<circle cx="756.1" cy="327.1" r="3.8" fill="url(#gr)"/>
<circle cx="754.1" cy="355.4" r="3.8" fill="url(#gr)"/>
<circle cx="771.4" cy="351.3" r="3.8" fill="url(#gr)"/>
<circle cx="766.7" cy="345.5" r="3.8" fill="url(#gr)"/>
<circle cx="759.6" cy="323.2" r="3.8" fill="url(#gr)"/>
<circle cx="775.2" cy="329.2" r="3.8" fill="url(#gr)"/>
<circle cx="759.4" cy="369.2" r="3.8" fill="url(#gr)"/>
<circle cx="746.6" cy="357.6" r="3.8" fill="url(#gr)"/>
<circle cx="768.3" cy="364.1" r="3.8" fill="url(#gr)"/>
<circle cx="740.6" cy="355.6" r="3.8" fill="url(#gr)"/>
<circle cx="749.8" cy="351.6" r="3.8" fill="url(#gr)"/>
<circle cx="757.0" cy="334.2" r="3.8" fill="url(#gr)"/>
<circle cx="780.0" cy="329.6" r="3.8" fill="url(#gr)"/>
<circle cx="750.8" cy="337.2" r="3.8" fill="url(#gr)"/>
<circle cx="784.5" cy="330.2" r="3.8" fill="url(#gr)"/>
<circle cx="779.5" cy="363.1" r="3.8" fill="url(#gr)"/>
<circle cx="755.5" cy="347.9" r="3.8" fill="url(#gr)"/>
<circle cx="742.0" cy="373.3" r="3.8" fill="url(#gr)"/>
<circle cx="788.1" cy="357.2" r="3.8" fill="url(#gr)"/>
<circle cx="782.6" cy="347.8" r="3.8" fill="url(#gr)"/>
<circle cx="784.0" cy="340.8" r="3.8" fill="url(#gr)"/>
<circle cx="778.9" cy="334.8" r="3.8" fill="url(#gr)"/>
<circle cx="762.6" cy="333.2" r="3.8" fill="url(#gr)"/>
<circle cx="737.3" cy="348.8" r="3.8" fill="url(#gr)"/>
<circle cx="777.3" cy="351.0" r="3.8" fill="url(#gr)"/>
<circle cx="741.5" cy="346.5" r="3.8" fill="url(#gr)"/>
<circle cx="761.3" cy="359.4" r="3.8" fill="url(#gr)"/>
<circle cx="781.5" cy="357.7" r="3.8" fill="url(#gr)"/>
<circle cx="747.4" cy="376.9" r="3.8" fill="url(#gr)"/>
<circle cx="739.4" cy="340.9" r="3.8" fill="url(#gr)"/>
<circle cx="785.0" cy="336.3" r="3.8" fill="url(#gr)"/>
<circle cx="762.1" cy="344.9" r="3.8" fill="url(#gr)"/>
<circle cx="771.5" cy="346.8" r="3.8" fill="url(#gr)"/>
<circle cx="745.7" cy="334.4" r="3.8" fill="url(#gr)"/>
<circle cx="735.0" cy="344.6" r="3.8" fill="url(#gr)"/>
<circle cx="750.2" cy="326.7" r="3.8" fill="url(#gr)"/>
<circle cx="742.8" cy="360.8" r="3.8" fill="url(#gr)"/>
<circle cx="746.2" cy="371.9" r="3.8" fill="url(#gr)"/>
<circle cx="759.9" cy="348.6" r="3.8" fill="url(#gr)"/>
<circle cx="753.2" cy="330.8" r="3.8" fill="url(#gr)"/>
<circle cx="762.6" cy="364.3" r="3.8" fill="url(#gr)"/>
<circle cx="766.3" cy="327.3" r="3.8" fill="url(#gr)"/>
<circle cx="756.0" cy="359.4" r="3.8" fill="url(#gr)"/>
<circle cx="777.9" cy="367.7" r="3.8" fill="url(#gr)"/>
<circle cx="780.8" cy="343.8" r="3.8" fill="url(#gr)"/>
<circle cx="774.0" cy="355.4" r="3.8" fill="url(#gr)"/>
<circle cx="869.1" cy="286.2" r="3.8" fill="url(#gg)"/>
<circle cx="878.0" cy="285.4" r="3.8" fill="url(#gg)"/>
<circle cx="882.0" cy="288.6" r="3.8" fill="url(#gg)"/>
<circle cx="890.0" cy="289.4" r="3.8" fill="url(#gg)"/>
<circle cx="891.7" cy="284.6" r="3.8" fill="url(#gg)"/>
<circle cx="894.9" cy="282.2" r="3.8" fill="url(#gg)"/>
<circle cx="904.5" cy="286.2" r="3.8" fill="url(#gg)"/>
<circle cx="875.6" cy="305.5" r="3.8" fill="url(#gg)"/>
<circle cx="940.3" cy="316.5" r="3.8" fill="url(#gg)"/>
<circle cx="905.0" cy="303.5" r="3.8" fill="url(#gg)"/>
<circle cx="915.3" cy="305.6" r="3.8" fill="url(#gg)"/>
<circle cx="915.1" cy="313.9" r="3.8" fill="url(#gg)"/>
<circle cx="899.8" cy="312.0" r="3.8" fill="url(#gg)"/>
<circle cx="886.3" cy="304.5" r="3.8" fill="url(#gg)"/>
<circle cx="881.7" cy="306.2" r="3.8" fill="url(#gg)"/>
<circle cx="897.7" cy="298.3" r="3.8" fill="url(#gg)"/>
<circle cx="919.7" cy="326.1" r="3.8" fill="url(#gg)"/>
<circle cx="891.4" cy="302.1" r="3.8" fill="url(#gg)"/>
<circle cx="924.7" cy="328.7" r="3.8" fill="url(#gg)"/>
<circle cx="917.9" cy="309.1" r="3.8" fill="url(#gg)"/>
<circle cx="912.6" cy="317.8" r="3.8" fill="url(#gg)"/>
<circle cx="943.5" cy="331.0" r="3.8" fill="url(#gg)"/>
<circle cx="884.5" cy="310.9" r="3.8" fill="url(#gg)"/>
<circle cx="928.8" cy="323.0" r="3.8" fill="url(#gg)"/>
<circle cx="912.4" cy="322.9" r="3.8" fill="url(#gg)"/>
<circle cx="877.4" cy="305.4" r="3.8" fill="url(#gg)"/>
<circle cx="922.9" cy="334.8" r="3.8" fill="url(#gg)"/>
<circle cx="879.3" cy="310.2" r="3.8" fill="url(#gg)"/>
<circle cx="912.0" cy="300.0" r="3.8" fill="url(#gg)"/>
<circle cx="929.6" cy="331.9" r="3.8" fill="url(#gg)"/>
<circle cx="937.1" cy="328.7" r="3.8" fill="url(#gg)"/>
<circle cx="904.9" cy="296.9" r="3.8" fill="url(#gg)"/>
<circle cx="908.5" cy="321.0" r="3.8" fill="url(#gg)"/>
<circle cx="938.1" cy="333.2" r="3.8" fill="url(#gg)"/>
<circle cx="922.6" cy="308.3" r="3.8" fill="url(#gg)"/>
<circle cx="894.8" cy="315.7" r="3.8" fill="url(#gg)"/>
<circle cx="899.5" cy="319.7" r="3.8" fill="url(#gg)"/>
<circle cx="897.9" cy="307.7" r="3.8" fill="url(#gg)"/>
<circle cx="937.0" cy="320.1" r="3.8" fill="url(#gg)"/>
<circle cx="889.0" cy="311.1" r="3.8" fill="url(#gg)"/>
<circle cx="932.6" cy="325.1" r="3.8" fill="url(#gg)"/>
<circle cx="910.6" cy="313.2" r="3.8" fill="url(#gg)"/>
<circle cx="905.2" cy="313.9" r="3.8" fill="url(#gg)"/>
<circle cx="920.0" cy="331.2" r="3.8" fill="url(#gg)"/>
<circle cx="927.0" cy="303.5" r="3.8" fill="url(#gg)"/>
<circle cx="916.8" cy="298.8" r="3.8" fill="url(#gg)"/>
<circle cx="917.6" cy="320.1" r="3.8" fill="url(#gg)"/>
<circle cx="893.2" cy="310.1" r="3.8" fill="url(#gg)"/>
<circle cx="896.1" cy="303.4" r="3.8" fill="url(#gg)"/>
<circle cx="903.0" cy="322.9" r="3.8" fill="url(#gg)"/>
<circle cx="902.3" cy="307.1" r="3.8" fill="url(#gg)"/>
<circle cx="909.5" cy="326.1" r="3.8" fill="url(#gg)"/>
<circle cx="909.8" cy="304.3" r="3.8" fill="url(#gg)"/>
<circle cx="930.9" cy="316.9" r="3.8" fill="url(#gg)"/>
<circle cx="915.8" cy="328.5" r="3.8" fill="url(#gg)"/>
<circle cx="920.1" cy="302.8" r="3.8" fill="url(#gg)"/>
<circle cx="900.7" cy="302.9" r="3.8" fill="url(#gg)"/>
<circle cx="928.9" cy="327.6" r="3.8" fill="url(#gg)"/>
<circle cx="909.4" cy="296.6" r="3.8" fill="url(#gg)"/>
<circle cx="877.2" cy="354.5" r="3.8" fill="url(#gb)"/>
<circle cx="880.4" cy="361.0" r="3.8" fill="url(#gb)"/>
<circle cx="886.8" cy="361.0" r="3.8" fill="url(#gb)"/>
<circle cx="890.0" cy="360.1" r="3.8" fill="url(#gb)"/>
<circle cx="883.6" cy="356.1" r="3.8" fill="url(#gb)"/>
<circle cx="885.2" cy="354.5" r="3.8" fill="url(#gb)"/>
<circle cx="820.9" cy="322.4" r="3.8" fill="url(#gb)"/>
<circle cx="825.7" cy="321.6" r="3.8" fill="url(#gb)"/>
<circle cx="830.6" cy="321.6" r="3.8" fill="url(#gb)"/>
<circle cx="838.6" cy="325.6" r="3.8" fill="url(#gb)"/>
<circle cx="838.6" cy="330.4" r="3.8" fill="url(#gb)"/>
<circle cx="874.0" cy="311.1" r="3.8" fill="url(#gb)"/>
<circle cx="881.2" cy="313.5" r="3.8" fill="url(#gb)"/>
<circle cx="840.7" cy="328.7" r="3.8" fill="url(#gb)"/>
<circle cx="854.8" cy="334.9" r="3.8" fill="url(#gb)"/>
<circle cx="897.0" cy="330.0" r="3.8" fill="url(#gb)"/>
<circle cx="875.0" cy="336.0" r="3.8" fill="url(#gb)"/>
<circle cx="888.0" cy="330.0" r="3.8" fill="url(#gb)"/>
<circle cx="865.0" cy="313.7" r="3.8" fill="url(#gb)"/>
<circle cx="876.1" cy="340.7" r="3.8" fill="url(#gb)"/>
<circle cx="872.5" cy="322.0" r="3.8" fill="url(#gb)"/>
<circle cx="882.0" cy="321.0" r="3.8" fill="url(#gb)"/>
<circle cx="886.9" cy="320.9" r="3.8" fill="url(#gb)"/>
<circle cx="872.7" cy="329.7" r="3.8" fill="url(#gb)"/>
<circle cx="864.2" cy="320.6" r="3.8" fill="url(#gb)"/>
<circle cx="860.4" cy="316.4" r="3.8" fill="url(#gb)"/>
<circle cx="864.2" cy="328.1" r="3.8" fill="url(#gb)"/>
<circle cx="850.0" cy="319.1" r="3.8" fill="url(#gb)"/>
<circle cx="888.1" cy="342.7" r="3.8" fill="url(#gb)"/>
<circle cx="877.7" cy="313.6" r="3.8" fill="url(#gb)"/>
<circle cx="854.3" cy="327.0" r="3.8" fill="url(#gb)"/>
<circle cx="883.6" cy="330.3" r="3.8" fill="url(#gb)"/>
<circle cx="892.6" cy="336.5" r="3.8" fill="url(#gb)"/>
<circle cx="897.5" cy="344.5" r="3.8" fill="url(#gb)"/>
<circle cx="870.9" cy="334.0" r="3.8" fill="url(#gb)"/>
<circle cx="856.7" cy="309.2" r="3.8" fill="url(#gb)"/>
<circle cx="866.9" cy="338.1" r="3.8" fill="url(#gb)"/>
<circle cx="861.8" cy="334.2" r="3.8" fill="url(#gb)"/>
<circle cx="859.6" cy="338.9" r="3.8" fill="url(#gb)"/>
<circle cx="887.4" cy="338.5" r="3.8" fill="url(#gb)"/>
<circle cx="855.8" cy="317.1" r="3.8" fill="url(#gb)"/>
<circle cx="886.1" cy="325.4" r="3.8" fill="url(#gb)"/>
<circle cx="859.3" cy="326.4" r="3.8" fill="url(#gb)"/>
<circle cx="841.7" cy="321.7" r="3.8" fill="url(#gb)"/>
<circle cx="875.5" cy="318.0" r="3.8" fill="url(#gb)"/>
<circle cx="856.4" cy="343.1" r="3.8" fill="url(#gb)"/>
<circle cx="892.1" cy="324.4" r="3.8" fill="url(#gb)"/>
<circle cx="861.2" cy="310.3" r="3.8" fill="url(#gb)"/>
<circle cx="869.3" cy="317.2" r="3.8" fill="url(#gb)"/>
<circle cx="842.4" cy="316.8" r="3.8" fill="url(#gb)"/>
<circle cx="881.6" cy="316.6" r="3.8" fill="url(#gb)"/>
<circle cx="847.9" cy="323.4" r="3.8" fill="url(#gb)"/>
<circle cx="882.4" cy="336.8" r="3.8" fill="url(#gb)"/>
<circle cx="868.4" cy="326.3" r="3.8" fill="url(#gb)"/>
<circle cx="881.5" cy="325.3" r="3.8" fill="url(#gb)"/>
<circle cx="837.2" cy="321.0" r="3.8" fill="url(#gb)"/>
<circle cx="868.1" cy="342.2" r="3.8" fill="url(#gb)"/>
<circle cx="892.2" cy="332.2" r="3.8" fill="url(#gb)"/>
<circle cx="893.1" cy="342.0" r="3.8" fill="url(#gb)"/>
<circle cx="880.6" cy="345.5" r="3.8" fill="url(#gb)"/>
<circle cx="858.4" cy="331.4" r="3.8" fill="url(#gb)"/>
<circle cx="875.6" cy="347.3" r="3.8" fill="url(#gb)"/>
<circle cx="845.7" cy="330.6" r="3.8" fill="url(#gb)"/>
<circle cx="854.0" cy="322.7" r="3.8" fill="url(#gb)"/>
<circle cx="863.5" cy="342.9" r="3.8" fill="url(#gb)"/>
<circle cx="878.8" cy="333.4" r="3.8" fill="url(#gb)"/>
<circle cx="866.2" cy="333.3" r="3.8" fill="url(#gb)"/>
<circle cx="850.8" cy="331.1" r="3.8" fill="url(#gb)"/>
<circle cx="901.4" cy="341.9" r="3.8" fill="url(#gb)"/>
<circle cx="870.9" cy="345.5" r="3.8" fill="url(#gb)"/>
<circle cx="883.7" cy="342.5" r="3.8" fill="url(#gb)"/>
<circle cx="859.6" cy="321.6" r="3.8" fill="url(#gb)"/>
<circle cx="886.7" cy="334.1" r="3.8" fill="url(#gb)"/>
<circle cx="844.2" cy="326.1" r="3.8" fill="url(#gb)"/>
<circle cx="845.7" cy="313.9" r="3.8" fill="url(#gb)"/>
</g>
<g clip-path="url(#clipb)" fill="none" stroke-width="0.85">
<ellipse cx="736.03" cy="238.06" rx="173.98" ry="48.86" transform="rotate(-127.52 736.03 238.06)" stroke="#000"/>
<ellipse cx="746.96" cy="339.47" rx="59.76" ry="36.87" transform="rotate(-149.2 746.96 339.47)" stroke="#f00"/>
<ellipse cx="909.06" cy="310.62" rx="50.31" ry="28.98" transform="rotate(-152.24 909.06 310.62)" stroke="#0d0"/>
<ellipse cx="864.54" cy="335.02" rx="50.4" ry="28.2" transform="rotate(-152.06 864.54 335.02)" stroke="#00f"/>
</g>
<path d="M588.00 423.7v5.5M649.54 423.7v5.5M711.08 423.7v5.5M772.62 423.7v5.5M834.15 423.7v5.5M895.69 423.7v5.5M957.23 423.7v5.5M618.77 423.7v3.2M680.31 423.7v3.2M741.85 423.7v3.2M803.38 423.7v3.2M864.92 423.7v3.2M926.46 423.7v3.2M988.00 423.7v3.2M588 72.30h-5.5M588 122.50h-5.5M588 172.70h-5.5M588 222.90h-5.5M588 273.10h-5.5M588 323.30h-5.5M588 373.50h-5.5M588 423.70h-5.5M588 97.40h-3.2M588 147.60h-3.2M588 197.80h-3.2M588 248.00h-3.2M588 298.20h-3.2M588 348.40h-3.2M588 398.60h-3.2" stroke="#1a1a1a" stroke-width="1.4" fill="none"/>
<text x="588.00" y="444.0" text-anchor="middle" class="tl">−0.8</text>
<text x="649.54" y="444.0" text-anchor="middle" class="tl">−0.6</text>
<text x="711.08" y="444.0" text-anchor="middle" class="tl">−0.4</text>
<text x="772.62" y="444.0" text-anchor="middle" class="tl">−0.2</text>
<text x="834.15" y="444.0" text-anchor="middle" class="tl">0.0</text>
<text x="895.69" y="444.0" text-anchor="middle" class="tl">0.2</text>
<text x="957.23" y="444.0" text-anchor="middle" class="tl">0.4</text>
<text x="578.00" y="77.0" text-anchor="end" class="tl">0.5</text>
<text x="578.00" y="127.2" text-anchor="end" class="tl">0.4</text>
<text x="578.00" y="177.4" text-anchor="end" class="tl">0.3</text>
<text x="578.00" y="227.6" text-anchor="end" class="tl">0.2</text>
<text x="578.00" y="277.8" text-anchor="end" class="tl">0.1</text>
<text x="578.00" y="328.0" text-anchor="end" class="tl">0.0</text>
<text x="578.00" y="378.2" text-anchor="end" class="tl">−0.1</text>
<text x="578.00" y="428.4" text-anchor="end" class="tl">−0.2</text>
<text x="788.0" y="474.9" text-anchor="middle" class="al">PC1 (91.06%)</text>
<text transform="translate(540.5 248.0) rotate(-90)" x="0" y="0" text-anchor="middle" class="al">PC2 (7.57%)</text>
<text x="763.6" y="44.6" class="ti">W<tspan class="sb" dx="0.6" dy="7.5">tap</tspan></text>
<text x="568.5" y="22.1" class="pl">(b)</text>
<rect x="865.4" y="72.3" width="118.70000000000005" height="76.10000000000001" fill="#fff" stroke="#777" stroke-width="1"/>
<circle cx="884.4" cy="83.2" r="4.0" fill="url(#gk)"/>
<text x="905.5" y="88.1" class="lg" style="font-size:14.3px">Day 0</text>
<circle cx="884.4" cy="101.7" r="4.0" fill="url(#gr)"/>
<text x="905.5" y="106.6" class="lg" style="font-size:14.3px">After 1 day</text>
<circle cx="884.4" cy="120.2" r="4.0" fill="url(#gg)"/>
<text x="905.5" y="125.1" class="lg" style="font-size:14.3px">After 3 days</text>
<circle cx="884.4" cy="138.7" r="4.0" fill="url(#gb)"/>
<text x="905.5" y="143.6" class="lg" style="font-size:14.3px">After 7 days</text>
<rect x="588" y="72.3" width="400" height="351.4" fill="none" stroke="#1a1a1a" stroke-width="1.5"/>
<clipPath id="clipc"><rect x="66" y="599.1" width="400" height="351.4"/></clipPath>
<line x1="306.00" y1="599.1" x2="306.00" y2="950.5" stroke="#000" stroke-width="1.3"/>
<line x1="66" y1="774.80" x2="466" y2="774.80" stroke="#000" stroke-width="1.3"/>
<g clip-path="url(#clipc)">
<circle cx="98.5" cy="627.0" r="3.8" fill="url(#gk)"/>
<circle cx="106.5" cy="632.5" r="3.8" fill="url(#gk)"/>
<circle cx="135.5" cy="714.2" r="3.8" fill="url(#gk)"/>
<circle cx="143.1" cy="716.1" r="3.8" fill="url(#gk)"/>
<circle cx="159.5" cy="720.6" r="3.8" fill="url(#gk)"/>
<circle cx="154.8" cy="730.6" r="3.8" fill="url(#gk)"/>
<circle cx="154.8" cy="727.5" r="3.8" fill="url(#gk)"/>
<circle cx="185.7" cy="732.2" r="3.8" fill="url(#gk)"/>
<circle cx="188.9" cy="733.8" r="3.8" fill="url(#gk)"/>
<circle cx="181.7" cy="736.2" r="3.8" fill="url(#gk)"/>
<circle cx="184.9" cy="741.5" r="3.8" fill="url(#gk)"/>
<circle cx="155.9" cy="769.1" r="3.8" fill="url(#gk)"/>
<circle cx="155.9" cy="765.5" r="3.8" fill="url(#gk)"/>
<circle cx="161.9" cy="776.9" r="3.8" fill="url(#gk)"/>
<circle cx="242.4" cy="822.9" r="3.8" fill="url(#gk)"/>
<circle cx="256.1" cy="828.5" r="3.8" fill="url(#gk)"/>
<circle cx="271.4" cy="821.0" r="3.8" fill="url(#gk)"/>
<circle cx="275.4" cy="826.1" r="3.8" fill="url(#gk)"/>
<circle cx="295.5" cy="807.6" r="3.8" fill="url(#gk)"/>
<circle cx="297.5" cy="805.5" r="3.8" fill="url(#gk)"/>
<circle cx="271.4" cy="799.6" r="3.8" fill="url(#gk)"/>
<circle cx="276.7" cy="799.9" r="3.8" fill="url(#gk)"/>
<circle cx="306.7" cy="813.3" r="3.8" fill="url(#gk)"/>
<circle cx="311.6" cy="815.2" r="3.8" fill="url(#gk)"/>
<circle cx="318.0" cy="815.7" r="3.8" fill="url(#gk)"/>
<circle cx="253.5" cy="892.1" r="3.8" fill="url(#gk)"/>
<circle cx="255.5" cy="894.1" r="3.8" fill="url(#gk)"/>
<circle cx="259.1" cy="899.5" r="3.8" fill="url(#gk)"/>
<circle cx="202.1" cy="743.2" r="3.8" fill="url(#gk)"/>
<circle cx="210.1" cy="745.6" r="3.8" fill="url(#gk)"/>
<circle cx="192.4" cy="757.7" r="3.8" fill="url(#gk)"/>
<circle cx="215.7" cy="759.3" r="3.8" fill="url(#gk)"/>
<circle cx="225.4" cy="752.9" r="3.8" fill="url(#gk)"/>
<circle cx="230.2" cy="755.3" r="3.8" fill="url(#gk)"/>
<circle cx="227.0" cy="779.4" r="3.8" fill="url(#gk)"/>
<circle cx="238.2" cy="764.9" r="3.8" fill="url(#gk)"/>
<circle cx="263.2" cy="798.7" r="3.8" fill="url(#gk)"/>
<circle cx="222.2" cy="756.1" r="3.8" fill="url(#gk)"/>
<circle cx="119.7" cy="746.6" r="3.8" fill="url(#gr2)"/>
<circle cx="123.0" cy="752.3" r="3.8" fill="url(#gr2)"/>
<circle cx="131.5" cy="749.0" r="3.8" fill="url(#gr2)"/>
<circle cx="170.4" cy="752.3" r="3.8" fill="url(#gr2)"/>
<circle cx="173.6" cy="748.2" r="3.8" fill="url(#gr2)"/>
<circle cx="184.9" cy="754.7" r="3.8" fill="url(#gr2)"/>
<circle cx="179.2" cy="761.1" r="3.8" fill="url(#gr2)"/>
<circle cx="164.8" cy="765.9" r="3.8" fill="url(#gr2)"/>
<circle cx="170.4" cy="765.1" r="3.8" fill="url(#gr2)"/>
<circle cx="174.4" cy="767.5" r="3.8" fill="url(#gr2)"/>
<circle cx="174.4" cy="770.8" r="3.8" fill="url(#gr2)"/>
<circle cx="173.6" cy="789.2" r="3.8" fill="url(#gr2)"/>
<circle cx="181.7" cy="790.9" r="3.8" fill="url(#gr2)"/>
<circle cx="184.9" cy="796.5" r="3.8" fill="url(#gr2)"/>
<circle cx="187.3" cy="801.3" r="3.8" fill="url(#gr2)"/>
<circle cx="189.7" cy="770.8" r="3.8" fill="url(#gr2)"/>
<circle cx="283.4" cy="753.0" r="3.8" fill="url(#gr2)"/>
<circle cx="278.6" cy="771.1" r="3.8" fill="url(#gr2)"/>
<circle cx="283.4" cy="765.0" r="3.8" fill="url(#gr2)"/>
<circle cx="286.6" cy="771.5" r="3.8" fill="url(#gr2)"/>
<circle cx="294.7" cy="759.4" r="3.8" fill="url(#gr2)"/>
<circle cx="299.5" cy="766.6" r="3.8" fill="url(#gr2)"/>
<circle cx="294.7" cy="773.1" r="3.8" fill="url(#gr2)"/>
<circle cx="276.2" cy="779.5" r="3.8" fill="url(#gr2)"/>
<circle cx="291.5" cy="779.5" r="3.8" fill="url(#gr2)"/>
<circle cx="297.1" cy="780.3" r="3.8" fill="url(#gr2)"/>
<circle cx="275.4" cy="787.5" r="3.8" fill="url(#gr2)"/>
<circle cx="285.8" cy="785.9" r="3.8" fill="url(#gr2)"/>
<circle cx="277.0" cy="790.8" r="3.8" fill="url(#gr2)"/>
<circle cx="226.2" cy="743.6" r="3.8" fill="url(#gr2)"/>
<circle cx="220.9" cy="748.8" r="3.8" fill="url(#gr2)"/>
<circle cx="192.0" cy="754.5" r="3.8" fill="url(#gr2)"/>
<circle cx="206.5" cy="756.5" r="3.8" fill="url(#gr2)"/>
<circle cx="243.5" cy="754.5" r="3.8" fill="url(#gr2)"/>
<circle cx="251.5" cy="757.3" r="3.8" fill="url(#gr2)"/>
<circle cx="263.6" cy="756.5" r="3.8" fill="url(#gr2)"/>
<circle cx="231.0" cy="760.1" r="3.8" fill="url(#gr2)"/>
<circle cx="235.0" cy="760.5" r="3.8" fill="url(#gr2)"/>
<circle cx="211.3" cy="764.1" r="3.8" fill="url(#gr2)"/>
<circle cx="213.3" cy="766.1" r="3.8" fill="url(#gr2)"/>
<circle cx="220.5" cy="764.1" r="3.8" fill="url(#gr2)"/>
<circle cx="223.8" cy="764.9" r="3.8" fill="url(#gr2)"/>
<circle cx="245.5" cy="764.1" r="3.8" fill="url(#gr2)"/>
<circle cx="251.9" cy="768.5" r="3.8" fill="url(#gr2)"/>
<circle cx="258.3" cy="763.7" r="3.8" fill="url(#gr2)"/>
<circle cx="264.0" cy="766.9" r="3.8" fill="url(#gr2)"/>
<circle cx="209.3" cy="767.7" r="3.8" fill="url(#gr2)"/>
<circle cx="202.1" cy="770.9" r="3.8" fill="url(#gr2)"/>
<circle cx="194.0" cy="773.0" r="3.8" fill="url(#gr2)"/>
<circle cx="190.8" cy="771.4" r="3.8" fill="url(#gr2)"/>
<circle cx="197.2" cy="777.0" r="3.8" fill="url(#gr2)"/>
<circle cx="192.4" cy="779.8" r="3.8" fill="url(#gr2)"/>
<circle cx="201.3" cy="773.8" r="3.8" fill="url(#gr2)"/>
<circle cx="206.1" cy="774.6" r="3.8" fill="url(#gr2)"/>
<circle cx="213.7" cy="772.6" r="3.8" fill="url(#gr2)"/>
<circle cx="220.5" cy="772.6" r="3.8" fill="url(#gr2)"/>
<circle cx="228.6" cy="769.3" r="3.8" fill="url(#gr2)"/>
<circle cx="233.8" cy="769.7" r="3.8" fill="url(#gr2)"/>
<circle cx="238.2" cy="770.5" r="3.8" fill="url(#gr2)"/>
<circle cx="243.1" cy="772.2" r="3.8" fill="url(#gr2)"/>
<circle cx="247.1" cy="770.1" r="3.8" fill="url(#gr2)"/>
<circle cx="230.2" cy="773.8" r="3.8" fill="url(#gr2)"/>
<circle cx="233.4" cy="775.4" r="3.8" fill="url(#gr2)"/>
<circle cx="214.1" cy="779.4" r="3.8" fill="url(#gr2)"/>
<circle cx="218.9" cy="780.2" r="3.8" fill="url(#gr2)"/>
<circle cx="211.7" cy="786.2" r="3.8" fill="url(#gr2)"/>
<circle cx="217.3" cy="786.6" r="3.8" fill="url(#gr2)"/>
<circle cx="221.4" cy="785.8" r="3.8" fill="url(#gr2)"/>
<circle cx="233.0" cy="781.4" r="3.8" fill="url(#gr2)"/>
<circle cx="236.6" cy="781.0" r="3.8" fill="url(#gr2)"/>
<circle cx="243.1" cy="779.4" r="3.8" fill="url(#gr2)"/>
<circle cx="248.7" cy="783.0" r="3.8" fill="url(#gr2)"/>
<circle cx="253.5" cy="783.8" r="3.8" fill="url(#gr2)"/>
<circle cx="266.8" cy="776.2" r="3.8" fill="url(#gr2)"/>
<circle cx="267.2" cy="789.4" r="3.8" fill="url(#gr2)"/>
<circle cx="239.0" cy="790.6" r="3.8" fill="url(#gr2)"/>
<circle cx="227.8" cy="792.7" r="3.8" fill="url(#gr2)"/>
<circle cx="232.6" cy="792.3" r="3.8" fill="url(#gr2)"/>
<circle cx="245.5" cy="790.6" r="3.8" fill="url(#gr2)"/>
<circle cx="252.7" cy="788.6" r="3.8" fill="url(#gr2)"/>
<circle cx="260.7" cy="795.5" r="3.8" fill="url(#gr2)"/>
<circle cx="256.7" cy="793.5" r="3.8" fill="url(#gr2)"/>
<circle cx="245.5" cy="797.1" r="3.8" fill="url(#gr2)"/>
<circle cx="235.0" cy="798.7" r="3.8" fill="url(#gr2)"/>
<circle cx="225.4" cy="799.9" r="3.8" fill="url(#gr2)"/>
<circle cx="220.5" cy="796.3" r="3.8" fill="url(#gr2)"/>
<circle cx="213.3" cy="796.3" r="3.8" fill="url(#gr2)"/>
<circle cx="210.9" cy="799.5" r="3.8" fill="url(#gr2)"/>
<circle cx="205.3" cy="805.1" r="3.8" fill="url(#gr2)"/>
<circle cx="213.3" cy="805.1" r="3.8" fill="url(#gr2)"/>
<circle cx="191.6" cy="797.9" r="3.8" fill="url(#gr2)"/>
<circle cx="239.0" cy="803.9" r="3.8" fill="url(#gr2)"/>
<circle cx="243.9" cy="809.1" r="3.8" fill="url(#gr2)"/>
<circle cx="251.1" cy="801.9" r="3.8" fill="url(#gr2)"/>
<circle cx="254.3" cy="802.7" r="3.8" fill="url(#gr2)"/>
<circle cx="249.5" cy="806.7" r="3.8" fill="url(#gr2)"/>
<circle cx="259.1" cy="808.3" r="3.8" fill="url(#gr2)"/>
<circle cx="267.2" cy="801.9" r="3.8" fill="url(#gr2)"/>
<circle cx="215.7" cy="811.5" r="3.8" fill="url(#gr2)"/>
<circle cx="210.5" cy="816.8" r="3.8" fill="url(#gr2)"/>
<circle cx="313.2" cy="757.0" r="3.8" fill="url(#gg)"/>
<circle cx="311.6" cy="761.8" r="3.8" fill="url(#gg)"/>
<circle cx="310.0" cy="777.1" r="3.8" fill="url(#gg)"/>
<circle cx="302.7" cy="789.1" r="3.8" fill="url(#gg)"/>
<circle cx="305.9" cy="788.3" r="3.8" fill="url(#gg)"/>
<circle cx="351.7" cy="772.9" r="3.8" fill="url(#gg)"/>
<circle cx="326.1" cy="793.4" r="3.8" fill="url(#gg)"/>
<circle cx="313.5" cy="790.1" r="3.8" fill="url(#gg)"/>
<circle cx="316.4" cy="783.6" r="3.8" fill="url(#gg)"/>
<circle cx="329.3" cy="772.9" r="3.8" fill="url(#gg)"/>
<circle cx="358.1" cy="775.9" r="3.8" fill="url(#gg)"/>
<circle cx="343.6" cy="797.6" r="3.8" fill="url(#gg)"/>
<circle cx="325.5" cy="780.3" r="3.8" fill="url(#gg)"/>
<circle cx="331.1" cy="783.6" r="3.8" fill="url(#gg)"/>
<circle cx="343.2" cy="777.5" r="3.8" fill="url(#gg)"/>
<circle cx="334.1" cy="793.8" r="3.8" fill="url(#gg)"/>
<circle cx="329.1" cy="802.4" r="3.8" fill="url(#gg)"/>
<circle cx="314.8" cy="777.6" r="3.8" fill="url(#gg)"/>
<circle cx="356.3" cy="792.0" r="3.8" fill="url(#gg)"/>
<circle cx="367.8" cy="801.9" r="3.8" fill="url(#gg)"/>
<circle cx="355.4" cy="798.5" r="3.8" fill="url(#gg)"/>
<circle cx="335.3" cy="801.7" r="3.8" fill="url(#gg)"/>
<circle cx="356.0" cy="783.7" r="3.8" fill="url(#gg)"/>
<circle cx="322.3" cy="785.6" r="3.8" fill="url(#gg)"/>
<circle cx="339.4" cy="780.6" r="3.8" fill="url(#gg)"/>
<circle cx="321.7" cy="791.3" r="3.8" fill="url(#gg)"/>
<circle cx="368.0" cy="785.1" r="3.8" fill="url(#gg)"/>
<circle cx="348.9" cy="792.1" r="3.8" fill="url(#gg)"/>
<circle cx="339.4" cy="794.8" r="3.8" fill="url(#gg)"/>
<circle cx="331.4" cy="777.6" r="3.8" fill="url(#gg)"/>
<circle cx="334.2" cy="789.2" r="3.8" fill="url(#gg)"/>
<circle cx="338.2" cy="775.2" r="3.8" fill="url(#gg)"/>
<circle cx="352.4" cy="780.1" r="3.8" fill="url(#gg)"/>
<circle cx="348.3" cy="778.5" r="3.8" fill="url(#gg)"/>
<circle cx="362.6" cy="792.6" r="3.8" fill="url(#gg)"/>
<circle cx="320.9" cy="774.2" r="3.8" fill="url(#gg)"/>
<circle cx="344.3" cy="772.0" r="3.8" fill="url(#gg)"/>
<circle cx="368.8" cy="789.8" r="3.8" fill="url(#gg)"/>
<circle cx="339.1" cy="786.3" r="3.8" fill="url(#gg)"/>
<circle cx="372.2" cy="802.2" r="3.8" fill="url(#gg)"/>
<circle cx="318.2" cy="795.1" r="3.8" fill="url(#gg)"/>
<circle cx="360.2" cy="788.7" r="3.8" fill="url(#gg)"/>
<circle cx="355.6" cy="770.9" r="3.8" fill="url(#gg)"/>
<circle cx="339.9" cy="801.9" r="3.8" fill="url(#gg)"/>
<circle cx="325.0" cy="799.5" r="3.8" fill="url(#gg)"/>
<circle cx="363.1" cy="803.0" r="3.8" fill="url(#gg)"/>
<circle cx="329.4" cy="787.9" r="3.8" fill="url(#gg)"/>
<circle cx="351.9" cy="787.9" r="3.8" fill="url(#gg)"/>
<circle cx="360.6" cy="798.9" r="3.8" fill="url(#gg)"/>
<circle cx="319.2" cy="780.2" r="3.8" fill="url(#gg)"/>
<circle cx="372.6" cy="782.4" r="3.8" fill="url(#gg)"/>
<circle cx="367.3" cy="779.2" r="3.8" fill="url(#gg)"/>
<circle cx="316.2" cy="773.0" r="3.8" fill="url(#gg)"/>
<circle cx="335.7" cy="771.1" r="3.8" fill="url(#gg)"/>
<circle cx="366.8" cy="794.4" r="3.8" fill="url(#gg)"/>
<circle cx="347.4" cy="787.2" r="3.8" fill="url(#gg)"/>
<circle cx="350.0" cy="799.1" r="3.8" fill="url(#gg)"/>
<circle cx="376.8" cy="784.2" r="3.8" fill="url(#gg)"/>
<circle cx="343.4" cy="790.7" r="3.8" fill="url(#gg)"/>
<circle cx="362.9" cy="774.9" r="3.8" fill="url(#gg)"/>
<circle cx="312.3" cy="785.2" r="3.8" fill="url(#gg)"/>
<circle cx="371.8" cy="797.9" r="3.8" fill="url(#gg)"/>
<circle cx="329.8" cy="796.0" r="3.8" fill="url(#gg)"/>
<circle cx="324.9" cy="776.0" r="3.8" fill="url(#gg)"/>
<circle cx="348.8" cy="769.0" r="3.8" fill="url(#gg)"/>
<circle cx="352.4" cy="795.4" r="3.8" fill="url(#gg)"/>
<circle cx="424.2" cy="771.9" r="3.8" fill="url(#gb)"/>
<circle cx="432.2" cy="774.3" r="3.8" fill="url(#gb)"/>
<circle cx="383.2" cy="783.2" r="3.8" fill="url(#gb)"/>
<circle cx="388.8" cy="784.0" r="3.8" fill="url(#gb)"/>
<circle cx="404.9" cy="783.2" r="3.8" fill="url(#gb)"/>
<circle cx="412.9" cy="780.8" r="3.8" fill="url(#gb)"/>
<circle cx="416.9" cy="785.6" r="3.8" fill="url(#gb)"/>
<circle cx="409.7" cy="792.0" r="3.8" fill="url(#gb)"/>
<circle cx="407.3" cy="797.6" r="3.8" fill="url(#gb)"/>
<circle cx="393.6" cy="793.6" r="3.8" fill="url(#gb)"/>
<circle cx="392.0" cy="800.0" r="3.8" fill="url(#gb)"/>
<circle cx="321.0" cy="745.0" r="3.8" fill="url(#gb)"/>
<circle cx="325.0" cy="741.0" r="3.8" fill="url(#gb)"/>
<circle cx="408.8" cy="754.2" r="3.8" fill="url(#gb)"/>
<circle cx="346.6" cy="746.6" r="3.8" fill="url(#gb)"/>
<circle cx="359.1" cy="753.7" r="3.8" fill="url(#gb)"/>
<circle cx="414.3" cy="743.4" r="3.8" fill="url(#gb)"/>
<circle cx="381.5" cy="757.0" r="3.8" fill="url(#gb)"/>
<circle cx="359.2" cy="759.1" r="3.8" fill="url(#gb)"/>
<circle cx="360.1" cy="747.6" r="3.8" fill="url(#gb)"/>
<circle cx="371.5" cy="752.8" r="3.8" fill="url(#gb)"/>
<circle cx="343.4" cy="759.8" r="3.8" fill="url(#gb)"/>
<circle cx="333.5" cy="754.1" r="3.8" fill="url(#gb)"/>
<circle cx="401.1" cy="750.4" r="3.8" fill="url(#gb)"/>
<circle cx="412.5" cy="750.9" r="3.8" fill="url(#gb)"/>
<circle cx="373.0" cy="747.7" r="3.8" fill="url(#gb)"/>
<circle cx="397.3" cy="754.1" r="3.8" fill="url(#gb)"/>
<circle cx="406.6" cy="746.5" r="3.8" fill="url(#gb)"/>
<circle cx="377.2" cy="741.2" r="3.8" fill="url(#gb)"/>
<circle cx="386.2" cy="762.9" r="3.8" fill="url(#gb)"/>
<circle cx="328.3" cy="756.5" r="3.8" fill="url(#gb)"/>
<circle cx="353.4" cy="765.1" r="3.8" fill="url(#gb)"/>
<circle cx="328.9" cy="750.8" r="3.8" fill="url(#gb)"/>
<circle cx="354.1" cy="746.4" r="3.8" fill="url(#gb)"/>
<circle cx="346.1" cy="753.5" r="3.8" fill="url(#gb)"/>
<circle cx="375.1" cy="755.9" r="3.8" fill="url(#gb)"/>
<circle cx="409.3" cy="761.1" r="3.8" fill="url(#gb)"/>
<circle cx="389.6" cy="757.7" r="3.8" fill="url(#gb)"/>
<circle cx="385.8" cy="755.8" r="3.8" fill="url(#gb)"/>
<circle cx="339.1" cy="743.5" r="3.8" fill="url(#gb)"/>
<circle cx="380.9" cy="752.1" r="3.8" fill="url(#gb)"/>
<circle cx="322.9" cy="748.3" r="3.8" fill="url(#gb)"/>
<circle cx="339.1" cy="749.6" r="3.8" fill="url(#gb)"/>
<circle cx="390.6" cy="744.3" r="3.8" fill="url(#gb)"/>
<circle cx="325.7" cy="741.9" r="3.8" fill="url(#gb)"/>
<circle cx="336.2" cy="757.5" r="3.8" fill="url(#gb)"/>
<circle cx="398.6" cy="768.6" r="3.8" fill="url(#gb)"/>
<circle cx="334.8" cy="745.9" r="3.8" fill="url(#gb)"/>
<circle cx="412.6" cy="767.1" r="3.8" fill="url(#gb)"/>
<circle cx="392.2" cy="761.2" r="3.8" fill="url(#gb)"/>
<circle cx="416.6" cy="752.3" r="3.8" fill="url(#gb)"/>
<circle cx="350.0" cy="750.8" r="3.8" fill="url(#gb)"/>
<circle cx="370.2" cy="760.5" r="3.8" fill="url(#gb)"/>
<circle cx="363.8" cy="757.4" r="3.8" fill="url(#gb)"/>
<circle cx="364.1" cy="744.3" r="3.8" fill="url(#gb)"/>
<circle cx="384.2" cy="767.1" r="3.8" fill="url(#gb)"/>
<circle cx="385.1" cy="744.9" r="3.8" fill="url(#gb)"/>
<circle cx="333.3" cy="741.2" r="3.8" fill="url(#gb)"/>
<circle cx="358.4" cy="765.2" r="3.8" fill="url(#gb)"/>
<circle cx="392.5" cy="754.1" r="3.8" fill="url(#gb)"/>
<circle cx="391.6" cy="766.8" r="3.8" fill="url(#gb)"/>
<circle cx="402.9" cy="759.3" r="3.8" fill="url(#gb)"/>
<circle cx="323.8" cy="753.9" r="3.8" fill="url(#gb)"/>
<circle cx="374.1" cy="762.7" r="3.8" fill="url(#gb)"/>
<circle cx="349.0" cy="763.2" r="3.8" fill="url(#gb)"/>
<circle cx="366.3" cy="749.7" r="3.8" fill="url(#gb)"/>
<circle cx="372.7" cy="739.5" r="3.8" fill="url(#gb)"/>
<circle cx="417.5" cy="747.3" r="3.8" fill="url(#gb)"/>
<circle cx="398.8" cy="760.6" r="3.8" fill="url(#gb)"/>
<circle cx="412.7" cy="757.0" r="3.8" fill="url(#gb)"/>
<circle cx="379.4" cy="764.2" r="3.8" fill="url(#gb)"/>
<circle cx="378.2" cy="746.9" r="3.8" fill="url(#gb)"/>
<circle cx="353.6" cy="755.2" r="3.8" fill="url(#gb)"/>
<circle cx="341.9" cy="755.3" r="3.8" fill="url(#gb)"/>
<circle cx="405.5" cy="751.4" r="3.8" fill="url(#gb)"/>
<circle cx="353.5" cy="759.5" r="3.8" fill="url(#gb)"/>
<circle cx="368.3" cy="765.3" r="3.8" fill="url(#gb)"/>
<circle cx="402.5" cy="771.2" r="3.8" fill="url(#gb)"/>
<circle cx="346.1" cy="740.3" r="3.8" fill="url(#gb)"/>
<circle cx="397.0" cy="744.4" r="3.8" fill="url(#gb)"/>
<circle cx="376.4" cy="751.6" r="3.8" fill="url(#gb)"/>
<circle cx="414.4" cy="761.2" r="3.8" fill="url(#gb)"/>
<circle cx="336.9" cy="762.4" r="3.8" fill="url(#gb)"/>
<circle cx="330.5" cy="744.8" r="3.8" fill="url(#gb)"/>
<circle cx="367.6" cy="755.2" r="3.8" fill="url(#gb)"/>
<circle cx="369.3" cy="743.0" r="3.8" fill="url(#gb)"/>
<circle cx="382.1" cy="741.6" r="3.8" fill="url(#gb)"/>
<circle cx="358.4" cy="742.0" r="3.8" fill="url(#gb)"/>
<circle cx="401.3" cy="745.3" r="3.8" fill="url(#gb)"/>
<circle cx="343.5" cy="749.7" r="3.8" fill="url(#gb)"/>
<circle cx="363.6" cy="753.1" r="3.8" fill="url(#gb)"/>
<circle cx="393.9" cy="770.9" r="3.8" fill="url(#gb)"/>
</g>
<g clip-path="url(#clipc)" fill="none" stroke-width="0.85">
<ellipse cx="206.88" cy="767.9" rx="185.06" ry="75.12" transform="rotate(-130.39 206.88 767.9)" stroke="#000"/>
<ellipse cx="202.84" cy="772.08" rx="102.27" ry="49.34" transform="rotate(179.43 202.84 772.08)" stroke="#f00"/>
<ellipse cx="343.46" cy="784.41" rx="54.53" ry="30.42" transform="rotate(-164.07 343.46 784.41)" stroke="#0d0"/>
<ellipse cx="386.57" cy="766.48" rx="76.26" ry="33.78" transform="rotate(-155.07 386.57 766.48)" stroke="#00f"/>
</g>
<path d="M92.67 950.5v5.5M146.00 950.5v5.5M199.33 950.5v5.5M252.67 950.5v5.5M306.00 950.5v5.5M359.33 950.5v5.5M412.67 950.5v5.5M466.00 950.5v5.5M66.00 950.5v3.2M119.33 950.5v3.2M172.67 950.5v3.2M226.00 950.5v3.2M279.33 950.5v3.2M332.67 950.5v3.2M386.00 950.5v3.2M439.33 950.5v3.2M66 599.10h-5.5M66 657.67h-5.5M66 716.23h-5.5M66 774.80h-5.5M66 833.37h-5.5M66 891.93h-5.5M66 950.50h-5.5M66 628.38h-3.2M66 686.95h-3.2M66 745.52h-3.2M66 804.08h-3.2M66 862.65h-3.2M66 921.22h-3.2" stroke="#1a1a1a" stroke-width="1.4" fill="none"/>
<text x="92.67" y="970.8" text-anchor="middle" class="tl">−0.4</text>
<text x="146.00" y="970.8" text-anchor="middle" class="tl">−0.3</text>
<text x="199.33" y="970.8" text-anchor="middle" class="tl">−0.2</text>
<text x="252.67" y="970.8" text-anchor="middle" class="tl">−0.1</text>
<text x="306.00" y="970.8" text-anchor="middle" class="tl">0.0</text>
<text x="359.33" y="970.8" text-anchor="middle" class="tl">0.1</text>
<text x="412.67" y="970.8" text-anchor="middle" class="tl">0.2</text>
<text x="466.00" y="970.8" text-anchor="middle" class="tl">0.3</text>
<text x="56.00" y="603.8" text-anchor="end" class="tl">0.3</text>
<text x="56.00" y="662.4" text-anchor="end" class="tl">0.2</text>
<text x="56.00" y="720.9" text-anchor="end" class="tl">0.1</text>
<text x="56.00" y="779.5" text-anchor="end" class="tl">0.0</text>
<text x="56.00" y="838.1" text-anchor="end" class="tl">−0.1</text>
<text x="56.00" y="896.6" text-anchor="end" class="tl">−0.2</text>
<text x="56.00" y="955.2" text-anchor="end" class="tl">−0.3</text>
<text x="266.0" y="1001.7" text-anchor="middle" class="al">PC1 (88.53%)</text>
<text transform="translate(18.5 774.8) rotate(-90)" x="0" y="0" text-anchor="middle" class="al">PC2 (7.22%)</text>
<text x="260.5" y="571.0" class="ti">W<tspan class="sb" dx="0.6" dy="7.3">shallow</tspan></text>
<text x="46.5" y="548.9" class="pl">(c)</text>
<rect x="330.1" y="599.1" width="128.2" height="80.89999999999998" fill="#fff" stroke="#777" stroke-width="1"/>
<circle cx="349.6" cy="610.7" r="4.0" fill="url(#gk)"/>
<text x="372.7" y="616.1" class="lg" style="font-size:15.6px">Day 0</text>
<circle cx="349.6" cy="630.2" r="4.0" fill="url(#gr2)"/>
<text x="372.7" y="635.5" class="lg" style="font-size:15.6px">After 1 day</text>
<circle cx="349.6" cy="649.6" r="4.0" fill="url(#gg)"/>
<text x="372.7" y="655.0" class="lg" style="font-size:15.6px">After 3 days</text>
<circle cx="349.6" cy="669.1" r="4.0" fill="url(#gb)"/>
<text x="372.7" y="674.4" class="lg" style="font-size:15.6px">After 7 days</text>
<rect x="66" y="599.1" width="400" height="351.4" fill="none" stroke="#1a1a1a" stroke-width="1.5"/>
<clipPath id="clipd"><rect x="588.7" y="599.1" width="399.29999999999995" height="351.6"/></clipPath>
<line x1="823.58" y1="599.1" x2="823.58" y2="950.7" stroke="#000" stroke-width="1.3"/>
<line x1="588.7" y1="790.88" x2="988" y2="790.88" stroke="#000" stroke-width="1.3"/>
<g clip-path="url(#clipd)">
<circle cx="617.0" cy="621.6" r="3.8" fill="url(#gk)"/>
<circle cx="619.3" cy="629.9" r="3.8" fill="url(#gk)"/>
<circle cx="620.2" cy="634.0" r="3.8" fill="url(#gk)"/>
<circle cx="631.8" cy="652.7" r="3.8" fill="url(#gk)"/>
<circle cx="638.9" cy="658.5" r="3.8" fill="url(#gk)"/>
<circle cx="625.6" cy="661.9" r="3.8" fill="url(#gk)"/>
<circle cx="625.9" cy="666.0" r="3.8" fill="url(#gk)"/>
<circle cx="632.3" cy="670.5" r="3.8" fill="url(#gk)"/>
<circle cx="630.0" cy="678.1" r="3.8" fill="url(#gk)"/>
<circle cx="647.8" cy="680.8" r="3.8" fill="url(#gk)"/>
<circle cx="653.1" cy="677.2" r="3.8" fill="url(#gk)"/>
<circle cx="651.3" cy="682.0" r="3.8" fill="url(#gk)"/>
<circle cx="654.0" cy="680.8" r="3.8" fill="url(#gk)"/>
<circle cx="652.2" cy="693.6" r="3.8" fill="url(#gk)"/>
<circle cx="651.3" cy="696.6" r="3.8" fill="url(#gk)"/>
<circle cx="658.5" cy="698.0" r="3.8" fill="url(#gk)"/>
<circle cx="662.5" cy="696.2" r="3.8" fill="url(#gk)"/>
<circle cx="667.3" cy="698.0" r="3.8" fill="url(#gk)"/>
<circle cx="661.1" cy="702.5" r="3.8" fill="url(#gk)"/>
<circle cx="665.6" cy="701.6" r="3.8" fill="url(#gk)"/>
<circle cx="666.5" cy="706.9" r="3.8" fill="url(#gk)"/>
<circle cx="668.2" cy="715.3" r="3.8" fill="url(#gk)"/>
<circle cx="657.2" cy="718.5" r="3.8" fill="url(#gk)"/>
<circle cx="655.8" cy="723.8" r="3.8" fill="url(#gk)"/>
<circle cx="662.0" cy="723.8" r="3.8" fill="url(#gk)"/>
<circle cx="688.7" cy="711.4" r="3.8" fill="url(#gk)"/>
<circle cx="708.2" cy="715.8" r="3.8" fill="url(#gk)"/>
<circle cx="716.2" cy="713.5" r="3.8" fill="url(#gk)"/>
<circle cx="720.7" cy="714.6" r="3.8" fill="url(#gk)"/>
<circle cx="684.2" cy="727.4" r="3.8" fill="url(#gk)"/>
<circle cx="691.0" cy="728.6" r="3.8" fill="url(#gk)"/>
<circle cx="705.6" cy="727.9" r="3.8" fill="url(#gk)"/>
<circle cx="712.7" cy="725.6" r="3.8" fill="url(#gk)"/>
<circle cx="710.9" cy="730.0" r="3.8" fill="url(#gk)"/>
<circle cx="683.9" cy="737.5" r="3.8" fill="url(#gk)"/>
<circle cx="685.1" cy="745.1" r="3.8" fill="url(#gk)"/>
<circle cx="684.8" cy="747.8" r="3.8" fill="url(#gk)"/>
<circle cx="708.2" cy="743.4" r="3.8" fill="url(#gk)"/>
<circle cx="712.3" cy="742.5" r="3.8" fill="url(#gk)"/>
<circle cx="715.4" cy="754.4" r="3.8" fill="url(#gk)"/>
<circle cx="730.5" cy="741.0" r="3.8" fill="url(#gk)"/>
<circle cx="742.0" cy="746.9" r="3.8" fill="url(#gk)"/>
<circle cx="747.4" cy="752.2" r="3.8" fill="url(#gk)"/>
<circle cx="735.4" cy="758.5" r="3.8" fill="url(#gk)"/>
<circle cx="756.3" cy="775.4" r="3.8" fill="url(#gk)"/>
<circle cx="748.3" cy="789.0" r="3.8" fill="url(#gk)"/>
<circle cx="745.4" cy="793.8" r="3.8" fill="url(#gk)"/>
<circle cx="775.7" cy="790.4" r="3.8" fill="url(#gk)"/>
<circle cx="784.7" cy="787.3" r="3.8" fill="url(#gk)"/>
<circle cx="773.1" cy="803.6" r="3.8" fill="url(#gk)"/>
<circle cx="767.5" cy="809.2" r="3.8" fill="url(#gk)"/>
<circle cx="768.0" cy="818.4" r="3.8" fill="url(#gk)"/>
<circle cx="800.5" cy="838.6" r="3.8" fill="url(#gk)"/>
<circle cx="727.8" cy="801.5" r="3.8" fill="url(#gr)"/>
<circle cx="758.6" cy="806.5" r="3.8" fill="url(#gr)"/>
<circle cx="707.3" cy="815.2" r="3.8" fill="url(#gr)"/>
<circle cx="716.7" cy="814.3" r="3.8" fill="url(#gr)"/>
<circle cx="722.7" cy="809.5" r="3.8" fill="url(#gr)"/>
<circle cx="724.4" cy="814.3" r="3.8" fill="url(#gr)"/>
<circle cx="730.4" cy="821.2" r="3.8" fill="url(#gr)"/>
<circle cx="738.1" cy="817.2" r="3.8" fill="url(#gr)"/>
<circle cx="702.2" cy="824.6" r="3.8" fill="url(#gr)"/>
<circle cx="709.0" cy="827.5" r="3.8" fill="url(#gr)"/>
<circle cx="753.5" cy="818.1" r="3.8" fill="url(#gr)"/>
<circle cx="772.3" cy="813.0" r="3.8" fill="url(#gr)"/>
<circle cx="777.4" cy="814.3" r="3.8" fill="url(#gr)"/>
<circle cx="782.5" cy="817.2" r="3.8" fill="url(#gr)"/>
<circle cx="785.9" cy="820.7" r="3.8" fill="url(#gr)"/>
<circle cx="791.1" cy="820.1" r="3.8" fill="url(#gr)"/>
<circle cx="763.7" cy="829.2" r="3.8" fill="url(#gr)"/>
<circle cx="774.0" cy="826.6" r="3.8" fill="url(#gr)"/>
<circle cx="783.4" cy="830.0" r="3.8" fill="url(#gr)"/>
<circle cx="789.3" cy="831.8" r="3.8" fill="url(#gr)"/>
<circle cx="779.1" cy="836.0" r="3.8" fill="url(#gr)"/>
<circle cx="785.9" cy="836.0" r="3.8" fill="url(#gr)"/>
<circle cx="791.9" cy="836.9" r="3.8" fill="url(#gr)"/>
<circle cx="803.9" cy="833.5" r="3.8" fill="url(#gr)"/>
<circle cx="809.8" cy="830.0" r="3.8" fill="url(#gr)"/>
<circle cx="729.5" cy="838.6" r="3.8" fill="url(#gr)"/>
<circle cx="753.5" cy="838.6" r="3.8" fill="url(#gr)"/>
<circle cx="758.6" cy="838.6" r="3.8" fill="url(#gr)"/>
<circle cx="767.1" cy="839.4" r="3.8" fill="url(#gr)"/>
<circle cx="772.3" cy="843.7" r="3.8" fill="url(#gr)"/>
<circle cx="768.8" cy="846.3" r="3.8" fill="url(#gr)"/>
<circle cx="774.8" cy="845.4" r="3.8" fill="url(#gr)"/>
<circle cx="797.0" cy="843.7" r="3.8" fill="url(#gr)"/>
<circle cx="803.0" cy="837.7" r="3.8" fill="url(#gr)"/>
<circle cx="717.6" cy="844.6" r="3.8" fill="url(#gr)"/>
<circle cx="718.4" cy="848.5" r="3.8" fill="url(#gr)"/>
<circle cx="743.2" cy="844.6" r="3.8" fill="url(#gr)"/>
<circle cx="746.6" cy="843.7" r="3.8" fill="url(#gr)"/>
<circle cx="742.4" cy="848.8" r="3.8" fill="url(#gr)"/>
<circle cx="750.0" cy="849.7" r="3.8" fill="url(#gr)"/>
<circle cx="750.9" cy="853.1" r="3.8" fill="url(#gr)"/>
<circle cx="739.8" cy="853.1" r="3.8" fill="url(#gr)"/>
<circle cx="733.0" cy="856.5" r="3.8" fill="url(#gr)"/>
<circle cx="738.1" cy="855.7" r="3.8" fill="url(#gr)"/>
<circle cx="779.1" cy="852.3" r="3.8" fill="url(#gr)"/>
<circle cx="787.6" cy="848.8" r="3.8" fill="url(#gr)"/>
<circle cx="789.3" cy="853.1" r="3.8" fill="url(#gr)"/>
<circle cx="799.6" cy="848.8" r="3.8" fill="url(#gr)"/>
<circle cx="807.3" cy="853.1" r="3.8" fill="url(#gr)"/>
<circle cx="813.3" cy="843.7" r="3.8" fill="url(#gr)"/>
<circle cx="816.7" cy="848.0" r="3.8" fill="url(#gr)"/>
<circle cx="813.3" cy="850.6" r="3.8" fill="url(#gr)"/>
<circle cx="821.8" cy="836.0" r="3.8" fill="url(#gr)"/>
<circle cx="820.1" cy="840.3" r="3.8" fill="url(#gr)"/>
<circle cx="825.2" cy="821.5" r="3.8" fill="url(#gr)"/>
<circle cx="825.2" cy="802.7" r="3.8" fill="url(#gr)"/>
<circle cx="812.4" cy="814.3" r="3.8" fill="url(#gr)"/>
<circle cx="734.7" cy="862.5" r="3.8" fill="url(#gr)"/>
<circle cx="743.2" cy="863.4" r="3.8" fill="url(#gr)"/>
<circle cx="767.1" cy="856.5" r="3.8" fill="url(#gr)"/>
<circle cx="774.0" cy="859.1" r="3.8" fill="url(#gr)"/>
<circle cx="773.1" cy="862.5" r="3.8" fill="url(#gr)"/>
<circle cx="785.9" cy="855.7" r="3.8" fill="url(#gr)"/>
<circle cx="786.8" cy="860.8" r="3.8" fill="url(#gr)"/>
<circle cx="789.3" cy="863.4" r="3.8" fill="url(#gr)"/>
<circle cx="797.9" cy="862.5" r="3.8" fill="url(#gr)"/>
<circle cx="803.0" cy="857.4" r="3.8" fill="url(#gr)"/>
<circle cx="813.3" cy="862.5" r="3.8" fill="url(#gr)"/>
<circle cx="823.5" cy="859.1" r="3.8" fill="url(#gr)"/>
<circle cx="830.4" cy="860.8" r="3.8" fill="url(#gr)"/>
<circle cx="832.1" cy="852.3" r="3.8" fill="url(#gr)"/>
<circle cx="826.9" cy="852.3" r="3.8" fill="url(#gr)"/>
<circle cx="848.3" cy="859.1" r="3.8" fill="url(#gr)"/>
<circle cx="760.3" cy="862.5" r="3.8" fill="url(#gr)"/>
<circle cx="756.9" cy="867.6" r="3.8" fill="url(#gr)"/>
<circle cx="762.0" cy="868.5" r="3.8" fill="url(#gr)"/>
<circle cx="767.1" cy="871.9" r="3.8" fill="url(#gr)"/>
<circle cx="804.7" cy="867.6" r="3.8" fill="url(#gr)"/>
<circle cx="799.6" cy="871.1" r="3.8" fill="url(#gr)"/>
<circle cx="809.8" cy="871.1" r="3.8" fill="url(#gr)"/>
<circle cx="821.8" cy="865.9" r="3.8" fill="url(#gr)"/>
<circle cx="825.2" cy="869.3" r="3.8" fill="url(#gr)"/>
<circle cx="826.9" cy="872.8" r="3.8" fill="url(#gr)"/>
<circle cx="734.7" cy="871.9" r="3.8" fill="url(#gr)"/>
<circle cx="743.2" cy="877.0" r="3.8" fill="url(#gr)"/>
<circle cx="756.9" cy="877.9" r="3.8" fill="url(#gr)"/>
<circle cx="791.1" cy="874.8" r="3.8" fill="url(#gr)"/>
<circle cx="797.9" cy="877.5" r="3.8" fill="url(#gr)"/>
<circle cx="807.3" cy="877.0" r="3.8" fill="url(#gr)"/>
<circle cx="813.3" cy="877.9" r="3.8" fill="url(#gr)"/>
<circle cx="818.4" cy="877.9" r="3.8" fill="url(#gr)"/>
<circle cx="825.2" cy="880.5" r="3.8" fill="url(#gr)"/>
<circle cx="835.5" cy="875.3" r="3.8" fill="url(#gr)"/>
<circle cx="756.0" cy="890.2" r="3.8" fill="url(#gr)"/>
<circle cx="761.2" cy="891.2" r="3.8" fill="url(#gr)"/>
<circle cx="750.9" cy="898.0" r="3.8" fill="url(#gr)"/>
<circle cx="801.8" cy="892.4" r="3.8" fill="url(#gr)"/>
<circle cx="801.8" cy="896.7" r="3.8" fill="url(#gr)"/>
<circle cx="812.7" cy="814.3" r="3.8" fill="url(#gr)"/>
<circle cx="826.0" cy="802.8" r="3.8" fill="url(#gr)"/>
<circle cx="829.6" cy="804.6" r="3.8" fill="url(#gr)"/>
<circle cx="824.2" cy="822.3" r="3.8" fill="url(#gr)"/>
<circle cx="818.9" cy="834.8" r="3.8" fill="url(#gr)"/>
<circle cx="813.6" cy="840.1" r="3.8" fill="url(#gr)"/>
<circle cx="827.8" cy="836.6" r="3.8" fill="url(#gr)"/>
<circle cx="843.8" cy="841.0" r="3.8" fill="url(#gr)"/>
<circle cx="815.3" cy="847.3" r="3.8" fill="url(#gr)"/>
<circle cx="827.8" cy="847.3" r="3.8" fill="url(#gr)"/>
<circle cx="833.1" cy="852.6" r="3.8" fill="url(#gr)"/>
<circle cx="849.1" cy="857.9" r="3.8" fill="url(#gr)"/>
<circle cx="708.6" cy="828.1" r="3.8" fill="url(#gr)"/>
<circle cx="703.0" cy="825.0" r="3.8" fill="url(#gr)"/>
<circle cx="716.6" cy="845.0" r="3.8" fill="url(#gr)"/>
<circle cx="717.4" cy="849.0" r="3.8" fill="url(#gr)"/>
<circle cx="730.7" cy="820.1" r="3.8" fill="url(#gr)"/>
<circle cx="797.0" cy="832.0" r="3.8" fill="url(#gr)"/>
<circle cx="807.0" cy="843.0" r="3.8" fill="url(#gr)"/>
<circle cx="839.4" cy="761.0" r="3.8" fill="url(#gg)"/>
<circle cx="860.7" cy="761.0" r="3.8" fill="url(#gg)"/>
<circle cx="904.3" cy="756.5" r="3.8" fill="url(#gg)"/>
<circle cx="900.7" cy="783.2" r="3.8" fill="url(#gg)"/>
<circle cx="834.9" cy="779.6" r="3.8" fill="url(#gg)"/>
<circle cx="826.9" cy="787.7" r="3.8" fill="url(#gg)"/>
<circle cx="842.0" cy="787.7" r="3.8" fill="url(#gg)"/>
<circle cx="840.2" cy="793.9" r="3.8" fill="url(#gg)"/>
<circle cx="849.1" cy="793.9" r="3.8" fill="url(#gg)"/>
<circle cx="856.3" cy="799.2" r="3.8" fill="url(#gg)"/>
<circle cx="866.9" cy="801.0" r="3.8" fill="url(#gg)"/>
<circle cx="872.3" cy="797.4" r="3.8" fill="url(#gg)"/>
<circle cx="831.4" cy="797.4" r="3.8" fill="url(#gg)"/>
<circle cx="831.4" cy="809.9" r="3.8" fill="url(#gg)"/>
<circle cx="820.7" cy="809.9" r="3.8" fill="url(#gg)"/>
<circle cx="816.2" cy="812.6" r="3.8" fill="url(#gg)"/>
<circle cx="838.5" cy="808.1" r="3.8" fill="url(#gg)"/>
<circle cx="845.6" cy="811.7" r="3.8" fill="url(#gg)"/>
<circle cx="854.5" cy="812.6" r="3.8" fill="url(#gg)"/>
<circle cx="831.4" cy="820.6" r="3.8" fill="url(#gg)"/>
<circle cx="842.0" cy="818.8" r="3.8" fill="url(#gg)"/>
<circle cx="845.6" cy="824.1" r="3.8" fill="url(#gg)"/>
<circle cx="834.9" cy="824.1" r="3.8" fill="url(#gg)"/>
<circle cx="863.4" cy="815.2" r="3.8" fill="url(#gg)"/>
<circle cx="868.7" cy="817.0" r="3.8" fill="url(#gg)"/>
<circle cx="875.8" cy="815.2" r="3.8" fill="url(#gg)"/>
<circle cx="863.4" cy="820.6" r="3.8" fill="url(#gg)"/>
<circle cx="870.5" cy="822.3" r="3.8" fill="url(#gg)"/>
<circle cx="868.7" cy="827.7" r="3.8" fill="url(#gg)"/>
<circle cx="870.5" cy="830.4" r="3.8" fill="url(#gg)"/>
<circle cx="832.2" cy="830.4" r="3.8" fill="url(#gg)"/>
<circle cx="841.1" cy="836.6" r="3.8" fill="url(#gg)"/>
<circle cx="863.4" cy="808.1" r="3.8" fill="url(#gg)"/>
<circle cx="819.2" cy="810.0" r="3.8" fill="url(#gg)"/>
<circle cx="833.2" cy="816.1" r="3.8" fill="url(#gg)"/>
<circle cx="831.2" cy="777.9" r="3.8" fill="url(#gg)"/>
<circle cx="845.3" cy="790.0" r="3.8" fill="url(#gg)"/>
<circle cx="850.0" cy="780.0" r="3.8" fill="url(#gg)"/>
<circle cx="858.0" cy="770.0" r="3.8" fill="url(#gg)"/>
<circle cx="862.0" cy="785.0" r="3.8" fill="url(#gg)"/>
<circle cx="875.0" cy="790.0" r="3.8" fill="url(#gg)"/>
<circle cx="880.0" cy="800.0" r="3.8" fill="url(#gg)"/>
<circle cx="895.0" cy="790.0" r="3.8" fill="url(#gg)"/>
<circle cx="848.0" cy="803.0" r="3.8" fill="url(#gg)"/>
<circle cx="824.0" cy="800.0" r="3.8" fill="url(#gg)"/>
<circle cx="877.0" cy="775.0" r="3.8" fill="url(#gg)"/>
<circle cx="870.0" cy="765.0" r="3.8" fill="url(#gg)"/>
<circle cx="887.0" cy="770.0" r="3.8" fill="url(#gg)"/>
<circle cx="900.0" cy="770.0" r="3.8" fill="url(#gg)"/>
<circle cx="831.5" cy="808.7" r="3.8" fill="url(#gg)"/>
<circle cx="861.3" cy="794.4" r="3.8" fill="url(#gg)"/>
<circle cx="866.4" cy="818.9" r="3.8" fill="url(#gg)"/>
<circle cx="862.1" cy="806.3" r="3.8" fill="url(#gg)"/>
<circle cx="851.2" cy="814.8" r="3.8" fill="url(#gg)"/>
<circle cx="862.1" cy="825.3" r="3.8" fill="url(#gg)"/>
<circle cx="866.2" cy="798.4" r="3.8" fill="url(#gg)"/>
<circle cx="868.1" cy="813.9" r="3.8" fill="url(#gg)"/>
<circle cx="834.3" cy="800.8" r="3.8" fill="url(#gg)"/>
<circle cx="874.2" cy="809.4" r="3.8" fill="url(#gg)"/>
<circle cx="844.8" cy="801.5" r="3.8" fill="url(#gg)"/>
<circle cx="867.4" cy="827.9" r="3.8" fill="url(#gg)"/>
<circle cx="870.1" cy="822.4" r="3.8" fill="url(#gg)"/>
<circle cx="850.5" cy="796.1" r="3.8" fill="url(#gg)"/>
<circle cx="844.3" cy="823.0" r="3.8" fill="url(#gg)"/>
<circle cx="858.4" cy="821.5" r="3.8" fill="url(#gg)"/>
<circle cx="835.2" cy="818.4" r="3.8" fill="url(#gg)"/>
<circle cx="843.3" cy="813.7" r="3.8" fill="url(#gg)"/>
<circle cx="849.0" cy="808.7" r="3.8" fill="url(#gg)"/>
<circle cx="856.5" cy="808.9" r="3.8" fill="url(#gg)"/>
<circle cx="875.2" cy="828.3" r="3.8" fill="url(#gg)"/>
<circle cx="838.3" cy="796.7" r="3.8" fill="url(#gg)"/>
<circle cx="837.9" cy="805.3" r="3.8" fill="url(#gg)"/>
<circle cx="843.0" cy="795.0" r="3.8" fill="url(#gg)"/>
<circle cx="849.8" cy="820.1" r="3.8" fill="url(#gg)"/>
<circle cx="878.7" cy="821.0" r="3.8" fill="url(#gg)"/>
<circle cx="828.3" cy="812.8" r="3.8" fill="url(#gg)"/>
<circle cx="869.1" cy="806.8" r="3.8" fill="url(#gg)"/>
<circle cx="873.2" cy="803.1" r="3.8" fill="url(#gg)"/>
<circle cx="855.9" cy="801.0" r="3.8" fill="url(#gg)"/>
<circle cx="871.3" cy="797.6" r="3.8" fill="url(#gg)"/>
<circle cx="858.7" cy="813.9" r="3.8" fill="url(#gg)"/>
<circle cx="852.4" cy="824.5" r="3.8" fill="url(#gg)"/>
<circle cx="831.8" cy="795.4" r="3.8" fill="url(#gg)"/>
<circle cx="843.9" cy="808.7" r="3.8" fill="url(#gg)"/>
<circle cx="839.5" cy="827.7" r="3.8" fill="url(#gg)"/>
<circle cx="839.6" cy="821.0" r="3.8" fill="url(#gg)"/>
<circle cx="830.8" cy="821.0" r="3.8" fill="url(#gg)"/>
<circle cx="835.1" cy="830.2" r="3.8" fill="url(#gg)"/>
<circle cx="862.0" cy="770.6" r="3.8" fill="url(#gg)"/>
<circle cx="856.7" cy="786.6" r="3.8" fill="url(#gg)"/>
<circle cx="851.5" cy="769.8" r="3.8" fill="url(#gg)"/>
<circle cx="863.9" cy="765.0" r="3.8" fill="url(#gg)"/>
<circle cx="864.4" cy="777.7" r="3.8" fill="url(#gg)"/>
<circle cx="851.3" cy="777.1" r="3.8" fill="url(#gg)"/>
<circle cx="851.4" cy="784.9" r="3.8" fill="url(#gg)"/>
<circle cx="856.6" cy="764.8" r="3.8" fill="url(#gg)"/>
<circle cx="843.0" cy="782.9" r="3.8" fill="url(#gg)"/>
<circle cx="840.6" cy="777.5" r="3.8" fill="url(#gg)"/>
<circle cx="846.7" cy="787.3" r="3.8" fill="url(#gg)"/>
<circle cx="925.3" cy="692.1" r="3.8" fill="url(#gb)"/>
<circle cx="916.4" cy="696.0" r="3.8" fill="url(#gb)"/>
<circle cx="927.4" cy="701.7" r="3.8" fill="url(#gb)"/>
<circle cx="904.3" cy="698.7" r="3.8" fill="url(#gb)"/>
<circle cx="907.0" cy="701.4" r="3.8" fill="url(#gb)"/>
<circle cx="907.5" cy="704.9" r="3.8" fill="url(#gb)"/>
<circle cx="895.8" cy="708.1" r="3.8" fill="url(#gb)"/>
<circle cx="901.6" cy="709.4" r="3.8" fill="url(#gb)"/>
<circle cx="886.5" cy="710.6" r="3.8" fill="url(#gb)"/>
<circle cx="904.3" cy="715.6" r="3.8" fill="url(#gb)"/>
<circle cx="905.2" cy="720.6" r="3.8" fill="url(#gb)"/>
<circle cx="886.5" cy="716.5" r="3.8" fill="url(#gb)"/>
<circle cx="886.5" cy="721.8" r="3.8" fill="url(#gb)"/>
<circle cx="891.0" cy="725.4" r="3.8" fill="url(#gb)"/>
<circle cx="923.9" cy="711.7" r="3.8" fill="url(#gb)"/>
<circle cx="927.4" cy="715.2" r="3.8" fill="url(#gb)"/>
<circle cx="922.5" cy="716.5" r="3.8" fill="url(#gb)"/>
<circle cx="936.9" cy="712.6" r="3.8" fill="url(#gb)"/>
<circle cx="918.9" cy="725.9" r="3.8" fill="url(#gb)"/>
<circle cx="946.5" cy="726.3" r="3.8" fill="url(#gb)"/>
<circle cx="936.3" cy="728.9" r="3.8" fill="url(#gb)"/>
<circle cx="934.2" cy="734.3" r="3.8" fill="url(#gb)"/>
<circle cx="939.5" cy="734.3" r="3.8" fill="url(#gb)"/>
<circle cx="855.4" cy="720.9" r="3.8" fill="url(#gb)"/>
<circle cx="853.6" cy="725.4" r="3.8" fill="url(#gb)"/>
<circle cx="847.9" cy="732.1" r="3.8" fill="url(#gb)"/>
<circle cx="857.2" cy="733.4" r="3.8" fill="url(#gb)"/>
<circle cx="851.8" cy="738.7" r="3.8" fill="url(#gb)"/>
<circle cx="852.3" cy="743.2" r="3.8" fill="url(#gb)"/>
<circle cx="872.3" cy="732.0" r="3.8" fill="url(#gb)"/>
<circle cx="879.4" cy="732.8" r="3.8" fill="url(#gb)"/>
<circle cx="863.4" cy="738.7" r="3.8" fill="url(#gb)"/>
<circle cx="868.7" cy="737.3" r="3.8" fill="url(#gb)"/>
<circle cx="884.7" cy="738.7" r="3.8" fill="url(#gb)"/>
<circle cx="891.9" cy="733.4" r="3.8" fill="url(#gb)"/>
<circle cx="897.2" cy="733.4" r="3.8" fill="url(#gb)"/>
<circle cx="902.5" cy="728.9" r="3.8" fill="url(#gb)"/>
<circle cx="902.5" cy="736.9" r="3.8" fill="url(#gb)"/>
<circle cx="900.7" cy="742.3" r="3.8" fill="url(#gb)"/>
<circle cx="891.9" cy="739.6" r="3.8" fill="url(#gb)"/>
<circle cx="866.9" cy="745.8" r="3.8" fill="url(#gb)"/>
<circle cx="874.1" cy="744.1" r="3.8" fill="url(#gb)"/>
<circle cx="881.2" cy="746.7" r="3.8" fill="url(#gb)"/>
<circle cx="854.5" cy="748.5" r="3.8" fill="url(#gb)"/>
<circle cx="860.7" cy="753.0" r="3.8" fill="url(#gb)"/>
<circle cx="877.6" cy="751.2" r="3.8" fill="url(#gb)"/>
<circle cx="872.3" cy="751.2" r="3.8" fill="url(#gb)"/>
<circle cx="892.7" cy="752.1" r="3.8" fill="url(#gb)"/>
<circle cx="901.6" cy="749.4" r="3.8" fill="url(#gb)"/>
<circle cx="854.5" cy="758.3" r="3.8" fill="url(#gb)"/>
<circle cx="874.9" cy="756.5" r="3.8" fill="url(#gb)"/>
<circle cx="874.1" cy="761.9" r="3.8" fill="url(#gb)"/>
<circle cx="848.3" cy="762.7" r="3.8" fill="url(#gb)"/>
<circle cx="906.1" cy="765.8" r="3.8" fill="url(#gb)"/>
<circle cx="884.7" cy="761.0" r="3.8" fill="url(#gb)"/>
<circle cx="889.2" cy="761.9" r="3.8" fill="url(#gb)"/>
<circle cx="883.8" cy="767.2" r="3.8" fill="url(#gb)"/>
<circle cx="888.3" cy="769.0" r="3.8" fill="url(#gb)"/>
<circle cx="891.9" cy="772.5" r="3.8" fill="url(#gb)"/>
<circle cx="878.5" cy="767.2" r="3.8" fill="url(#gb)"/>
<circle cx="870.5" cy="767.2" r="3.8" fill="url(#gb)"/>
<circle cx="856.3" cy="768.1" r="3.8" fill="url(#gb)"/>
<circle cx="850.9" cy="770.7" r="3.8" fill="url(#gb)"/>
<circle cx="845.6" cy="769.9" r="3.8" fill="url(#gb)"/>
<circle cx="843.8" cy="775.2" r="3.8" fill="url(#gb)"/>
<circle cx="840.2" cy="777.9" r="3.8" fill="url(#gb)"/>
<circle cx="865.2" cy="770.7" r="3.8" fill="url(#gb)"/>
<circle cx="872.3" cy="776.1" r="3.8" fill="url(#gb)"/>
<circle cx="866.9" cy="779.6" r="3.8" fill="url(#gb)"/>
<circle cx="881.2" cy="776.1" r="3.8" fill="url(#gb)"/>
<circle cx="884.7" cy="773.4" r="3.8" fill="url(#gb)"/>
<circle cx="901.6" cy="774.3" r="3.8" fill="url(#gb)"/>
<circle cx="904.3" cy="774.3" r="3.8" fill="url(#gb)"/>
<circle cx="888.3" cy="783.2" r="3.8" fill="url(#gb)"/>
<circle cx="893.6" cy="788.5" r="3.8" fill="url(#gb)"/>
<circle cx="877.6" cy="785.0" r="3.8" fill="url(#gb)"/>
<circle cx="870.5" cy="786.8" r="3.8" fill="url(#gb)"/>
<circle cx="863.4" cy="783.2" r="3.8" fill="url(#gb)"/>
<circle cx="858.0" cy="786.8" r="3.8" fill="url(#gb)"/>
<circle cx="852.7" cy="790.3" r="3.8" fill="url(#gb)"/>
<circle cx="863.4" cy="793.0" r="3.8" fill="url(#gb)"/>
<circle cx="870.5" cy="791.2" r="3.8" fill="url(#gb)"/>
<circle cx="877.6" cy="793.9" r="3.8" fill="url(#gb)"/>
<circle cx="882.1" cy="792.1" r="3.8" fill="url(#gb)"/>
<circle cx="883.0" cy="797.4" r="3.8" fill="url(#gb)"/>
<circle cx="852.7" cy="797.4" r="3.8" fill="url(#gb)"/>
<circle cx="847.4" cy="801.0" r="3.8" fill="url(#gb)"/>
<circle cx="842.9" cy="802.8" r="3.8" fill="url(#gb)"/>
<circle cx="859.8" cy="806.3" r="3.8" fill="url(#gb)"/>
<circle cx="877.6" cy="805.4" r="3.8" fill="url(#gb)"/>
<circle cx="850.9" cy="758.3" r="3.8" fill="url(#gb)"/>
<circle cx="858.0" cy="763.6" r="3.8" fill="url(#gb)"/>
<circle cx="863.4" cy="765.4" r="3.8" fill="url(#gb)"/>
<circle cx="868.7" cy="761.9" r="3.8" fill="url(#gb)"/>
<circle cx="879.4" cy="761.9" r="3.8" fill="url(#gb)"/>
<circle cx="868.7" cy="774.3" r="3.8" fill="url(#gb)"/>
<circle cx="859.8" cy="776.1" r="3.8" fill="url(#gb)"/>
<circle cx="854.5" cy="779.6" r="3.8" fill="url(#gb)"/>
<circle cx="874.1" cy="781.4" r="3.8" fill="url(#gb)"/>
<circle cx="884.7" cy="786.8" r="3.8" fill="url(#gb)"/>
<circle cx="866.9" cy="786.8" r="3.8" fill="url(#gb)"/>
<circle cx="847.4" cy="779.6" r="3.8" fill="url(#gb)"/>
<circle cx="895.4" cy="769.0" r="3.8" fill="url(#gb)"/>
<circle cx="898.1" cy="777.0" r="3.8" fill="url(#gb)"/>
<circle cx="858.0" cy="793.9" r="3.8" fill="url(#gb)"/>
<circle cx="874.1" cy="790.3" r="3.8" fill="url(#gb)"/>
<circle cx="845.6" cy="795.7" r="3.8" fill="url(#gb)"/>
<circle cx="870.5" cy="745.8" r="3.8" fill="url(#gb)"/>
<circle cx="861.6" cy="742.3" r="3.8" fill="url(#gb)"/>
<circle cx="888.3" cy="744.1" r="3.8" fill="url(#gb)"/>
<circle cx="895.4" cy="756.5" r="3.8" fill="url(#gb)"/>
<circle cx="852.7" cy="751.2" r="3.8" fill="url(#gb)"/>
</g>
<g clip-path="url(#clipd)" fill="none" stroke-width="0.85">
<ellipse cx="703.88" cy="729.93" rx="150.91" ry="40.32" transform="rotate(-131.97 703.88 729.93)" stroke="#000"/>
<ellipse cx="775.8" cy="845.4" rx="83.59" ry="62.44" transform="rotate(-174.95 775.8 845.4)" stroke="#f00"/>
<ellipse cx="862.5" cy="794.08" rx="60.91" ry="43.82" transform="rotate(137.87 862.5 794.08)" stroke="#0d0"/>
<ellipse cx="892.6" cy="747.16" rx="75.91" ry="46.29" transform="rotate(140.3 892.6 747.16)" stroke="#00f"/>
</g>
<path d="M588.70 950.7v5.5M635.68 950.7v5.5M682.65 950.7v5.5M729.63 950.7v5.5M776.61 950.7v5.5M823.58 950.7v5.5M870.56 950.7v5.5M917.54 950.7v5.5M964.51 950.7v5.5M612.19 950.7v3.2M659.16 950.7v3.2M706.14 950.7v3.2M753.12 950.7v3.2M800.09 950.7v3.2M847.07 950.7v3.2M894.05 950.7v3.2M941.02 950.7v3.2M988.00 950.7v3.2M588.7 599.10h-5.5M588.7 663.03h-5.5M588.7 726.95h-5.5M588.7 790.88h-5.5M588.7 854.81h-5.5M588.7 918.74h-5.5M588.7 631.06h-3.2M588.7 694.99h-3.2M588.7 758.92h-3.2M588.7 822.85h-3.2M588.7 886.77h-3.2M588.7 950.70h-3.2" stroke="#1a1a1a" stroke-width="1.4" fill="none"/>
<text x="588.70" y="971.0" text-anchor="middle" class="tl">−0.5</text>
<text x="635.68" y="971.0" text-anchor="middle" class="tl">−0.4</text>
<text x="682.65" y="971.0" text-anchor="middle" class="tl">−0.3</text>
<text x="729.63" y="971.0" text-anchor="middle" class="tl">−0.2</text>
<text x="776.61" y="971.0" text-anchor="middle" class="tl">−0.1</text>
<text x="823.58" y="971.0" text-anchor="middle" class="tl">0.0</text>
<text x="870.56" y="971.0" text-anchor="middle" class="tl">0.1</text>
<text x="917.54" y="971.0" text-anchor="middle" class="tl">0.2</text>
<text x="964.51" y="971.0" text-anchor="middle" class="tl">0.3</text>
<text x="578.70" y="603.8" text-anchor="end" class="tl">0.15</text>
<text x="578.70" y="667.7" text-anchor="end" class="tl">0.10</text>
<text x="578.70" y="731.7" text-anchor="end" class="tl">0.05</text>
<text x="578.70" y="795.6" text-anchor="end" class="tl">0.00</text>
<text x="578.70" y="859.5" text-anchor="end" class="tl">−0.05</text>
<text x="578.70" y="923.4" text-anchor="end" class="tl">−0.10</text>
<text x="788.4" y="1001.9" text-anchor="middle" class="al">PC1 (91.36%)</text>
<text transform="translate(535.4 774.9) rotate(-90)" x="0" y="0" text-anchor="middle" class="al">PC2 (6.78%)</text>
<text x="807.4" y="571.4" class="ti">W<tspan class="sb" dx="0.6" dy="6.6">mix</tspan></text>
<text x="569.2" y="548.9" class="pl">(d)</text>
<rect x="865.4" y="599.1" width="118.70000000000005" height="76.29999999999995" fill="#fff" stroke="#777" stroke-width="1"/>
<circle cx="884.4" cy="610.3" r="4.0" fill="url(#gk)"/>
<text x="905.5" y="615.2" class="lg" style="font-size:14.3px">Day 0</text>
<circle cx="884.4" cy="628.8" r="4.0" fill="url(#gr)"/>
<text x="905.5" y="633.7" class="lg" style="font-size:14.3px">After 1 day</text>
<circle cx="884.4" cy="647.2" r="4.0" fill="url(#gg)"/>
<text x="905.5" y="652.1" class="lg" style="font-size:14.3px">After 3 days</text>
<circle cx="884.4" cy="665.6" r="4.0" fill="url(#gb)"/>
<text x="905.5" y="670.6" class="lg" style="font-size:14.3px">After 7 days</text>
<rect x="588.7" y="599.1" width="399.29999999999995" height="351.6" fill="none" stroke="#1a1a1a" stroke-width="1.5"/>
</svg>
</body></html>
